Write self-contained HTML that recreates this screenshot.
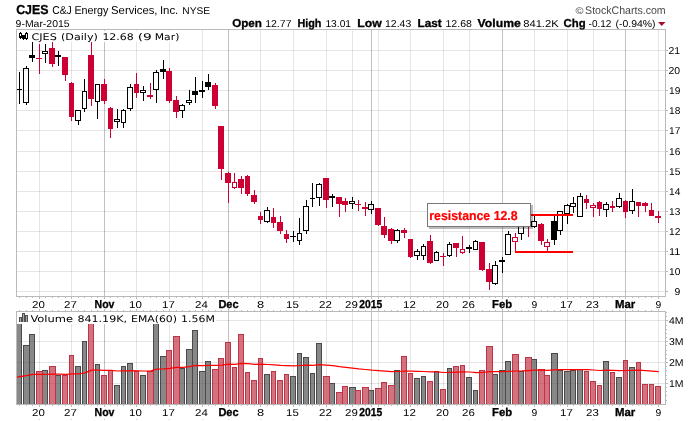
<!DOCTYPE html>
<html lang="en"><head><meta charset="utf-8"><title>CJES - C&amp;J Energy Services, Inc. - StockCharts</title>
<style>
html,body{margin:0;padding:0;background:#fff;}
body{width:700px;height:421px;overflow:hidden;font-family:"Liberation Sans",sans-serif;}
svg{display:block;}
</style></head><body>
<svg width="700" height="421" viewBox="0 0 700 421" text-rendering="geometricPrecision">
<rect width="700" height="421" fill="#fff"/>
<g shape-rendering="crispEdges">
<rect x="17" y="291" width="648" height="1" fill="rgba(0,0,0,0.10)"/>
<rect x="666" y="291" width="2" height="1" fill="#bababa"/>
<rect x="17" y="271" width="648" height="1" fill="rgba(0,0,0,0.10)"/>
<rect x="666" y="271" width="2" height="1" fill="#bababa"/>
<rect x="17" y="251" width="648" height="1" fill="rgba(0,0,0,0.10)"/>
<rect x="666" y="251" width="2" height="1" fill="#bababa"/>
<rect x="17" y="231" width="648" height="1" fill="rgba(0,0,0,0.10)"/>
<rect x="666" y="231" width="2" height="1" fill="#bababa"/>
<rect x="17" y="211" width="648" height="1" fill="rgba(0,0,0,0.10)"/>
<rect x="666" y="211" width="2" height="1" fill="#bababa"/>
<rect x="17" y="191" width="648" height="1" fill="rgba(0,0,0,0.10)"/>
<rect x="666" y="191" width="2" height="1" fill="#bababa"/>
<rect x="17" y="171" width="648" height="1" fill="rgba(0,0,0,0.10)"/>
<rect x="666" y="171" width="2" height="1" fill="#bababa"/>
<rect x="17" y="151" width="648" height="1" fill="rgba(0,0,0,0.10)"/>
<rect x="666" y="151" width="2" height="1" fill="#bababa"/>
<rect x="17" y="130" width="648" height="1" fill="rgba(0,0,0,0.10)"/>
<rect x="666" y="130" width="2" height="1" fill="#bababa"/>
<rect x="17" y="110" width="648" height="1" fill="rgba(0,0,0,0.10)"/>
<rect x="666" y="110" width="2" height="1" fill="#bababa"/>
<rect x="17" y="90" width="648" height="1" fill="rgba(0,0,0,0.10)"/>
<rect x="666" y="90" width="2" height="1" fill="#bababa"/>
<rect x="17" y="70" width="648" height="1" fill="rgba(0,0,0,0.10)"/>
<rect x="666" y="70" width="2" height="1" fill="#bababa"/>
<rect x="17" y="50" width="648" height="1" fill="rgba(0,0,0,0.10)"/>
<rect x="666" y="50" width="2" height="1" fill="#bababa"/>
<rect x="39" y="30" width="1" height="266" fill="rgba(0,0,0,0.10)"/>
<rect x="39" y="312" width="1" height="92" fill="rgba(0,0,0,0.10)"/>
<rect x="71" y="30" width="1" height="266" fill="rgba(0,0,0,0.10)"/>
<rect x="71" y="312" width="1" height="92" fill="rgba(0,0,0,0.10)"/>
<rect x="104" y="30" width="1" height="266" fill="rgba(0,0,0,0.24)"/>
<rect x="104" y="312" width="1" height="92" fill="rgba(0,0,0,0.24)"/>
<rect x="136" y="30" width="1" height="266" fill="rgba(0,0,0,0.10)"/>
<rect x="136" y="312" width="1" height="92" fill="rgba(0,0,0,0.10)"/>
<rect x="169" y="30" width="1" height="266" fill="rgba(0,0,0,0.10)"/>
<rect x="169" y="312" width="1" height="92" fill="rgba(0,0,0,0.10)"/>
<rect x="202" y="30" width="1" height="266" fill="rgba(0,0,0,0.10)"/>
<rect x="202" y="312" width="1" height="92" fill="rgba(0,0,0,0.10)"/>
<rect x="228" y="30" width="1" height="266" fill="rgba(0,0,0,0.24)"/>
<rect x="228" y="312" width="1" height="92" fill="rgba(0,0,0,0.24)"/>
<rect x="260" y="30" width="1" height="266" fill="rgba(0,0,0,0.10)"/>
<rect x="260" y="312" width="1" height="92" fill="rgba(0,0,0,0.10)"/>
<rect x="293" y="30" width="1" height="266" fill="rgba(0,0,0,0.10)"/>
<rect x="293" y="312" width="1" height="92" fill="rgba(0,0,0,0.10)"/>
<rect x="326" y="30" width="1" height="266" fill="rgba(0,0,0,0.10)"/>
<rect x="326" y="312" width="1" height="92" fill="rgba(0,0,0,0.10)"/>
<rect x="352" y="30" width="1" height="266" fill="rgba(0,0,0,0.10)"/>
<rect x="352" y="312" width="1" height="92" fill="rgba(0,0,0,0.10)"/>
<rect x="371" y="30" width="1" height="266" fill="rgba(0,0,0,0.24)"/>
<rect x="371" y="312" width="1" height="92" fill="rgba(0,0,0,0.24)"/>
<rect x="378" y="30" width="1" height="266" fill="rgba(0,0,0,0.10)"/>
<rect x="378" y="312" width="1" height="92" fill="rgba(0,0,0,0.10)"/>
<rect x="410" y="30" width="1" height="266" fill="rgba(0,0,0,0.10)"/>
<rect x="410" y="312" width="1" height="92" fill="rgba(0,0,0,0.10)"/>
<rect x="443" y="30" width="1" height="266" fill="rgba(0,0,0,0.10)"/>
<rect x="443" y="312" width="1" height="92" fill="rgba(0,0,0,0.10)"/>
<rect x="469" y="30" width="1" height="266" fill="rgba(0,0,0,0.10)"/>
<rect x="469" y="312" width="1" height="92" fill="rgba(0,0,0,0.10)"/>
<rect x="502" y="30" width="1" height="266" fill="rgba(0,0,0,0.24)"/>
<rect x="502" y="312" width="1" height="92" fill="rgba(0,0,0,0.24)"/>
<rect x="534" y="30" width="1" height="266" fill="rgba(0,0,0,0.10)"/>
<rect x="534" y="312" width="1" height="92" fill="rgba(0,0,0,0.10)"/>
<rect x="567" y="30" width="1" height="266" fill="rgba(0,0,0,0.10)"/>
<rect x="567" y="312" width="1" height="92" fill="rgba(0,0,0,0.10)"/>
<rect x="593" y="30" width="1" height="266" fill="rgba(0,0,0,0.10)"/>
<rect x="593" y="312" width="1" height="92" fill="rgba(0,0,0,0.10)"/>
<rect x="625" y="30" width="1" height="266" fill="rgba(0,0,0,0.24)"/>
<rect x="625" y="312" width="1" height="92" fill="rgba(0,0,0,0.24)"/>
<rect x="658" y="30" width="1" height="266" fill="rgba(0,0,0,0.10)"/>
<rect x="658" y="312" width="1" height="92" fill="rgba(0,0,0,0.10)"/>
<rect x="17" y="383" width="648" height="1" fill="rgba(0,0,0,0.10)"/>
<rect x="666" y="383" width="2" height="1" fill="#bababa"/>
<rect x="17" y="362" width="648" height="1" fill="rgba(0,0,0,0.10)"/>
<rect x="666" y="362" width="2" height="1" fill="#bababa"/>
<rect x="17" y="341" width="648" height="1" fill="rgba(0,0,0,0.10)"/>
<rect x="666" y="341" width="2" height="1" fill="#bababa"/>
<rect x="17" y="320" width="648" height="1" fill="rgba(0,0,0,0.10)"/>
<rect x="666" y="320" width="2" height="1" fill="#bababa"/>
<rect x="666" y="400" width="1" height="1" fill="#bababa"/>
<rect x="666" y="395" width="1" height="1" fill="#bababa"/>
<rect x="666" y="391" width="1" height="1" fill="#bababa"/>
<rect x="666" y="387" width="1" height="1" fill="#bababa"/>
<rect x="666" y="379" width="1" height="1" fill="#bababa"/>
<rect x="666" y="375" width="1" height="1" fill="#bababa"/>
<rect x="666" y="370" width="1" height="1" fill="#bababa"/>
<rect x="666" y="366" width="1" height="1" fill="#bababa"/>
<rect x="666" y="358" width="1" height="1" fill="#bababa"/>
<rect x="666" y="354" width="1" height="1" fill="#bababa"/>
<rect x="666" y="350" width="1" height="1" fill="#bababa"/>
<rect x="666" y="345" width="1" height="1" fill="#bababa"/>
<rect x="666" y="337" width="1" height="1" fill="#bababa"/>
<rect x="666" y="333" width="1" height="1" fill="#bababa"/>
<rect x="666" y="329" width="1" height="1" fill="#bababa"/>
<rect x="666" y="325" width="1" height="1" fill="#bababa"/>
<rect x="666" y="316" width="1" height="1" fill="#bababa"/>
<rect x="666" y="312" width="1" height="1" fill="#bababa"/>
<rect x="16" y="29" width="650" height="1" fill="#bababa"/>
<rect x="16" y="296" width="650" height="1" fill="#bababa"/>
<rect x="16" y="29" width="1" height="268" fill="#bababa"/>
<rect x="665" y="29" width="1" height="268" fill="#bababa"/>
<rect x="16" y="311" width="650" height="1" fill="#bababa"/>
<rect x="16" y="404" width="650" height="1" fill="#bababa"/>
<rect x="16" y="311" width="1" height="94" fill="#bababa"/>
<rect x="665" y="311" width="1" height="94" fill="#bababa"/>
<rect x="19" y="297" width="1" height="1" fill="#bababa"/>
<rect x="19" y="310" width="1" height="1" fill="#bababa"/>
<rect x="19" y="405" width="1" height="1" fill="#bababa"/>
<rect x="26" y="297" width="1" height="1" fill="#bababa"/>
<rect x="26" y="310" width="1" height="1" fill="#bababa"/>
<rect x="26" y="405" width="1" height="1" fill="#bababa"/>
<rect x="32" y="297" width="1" height="1" fill="#bababa"/>
<rect x="32" y="310" width="1" height="1" fill="#bababa"/>
<rect x="32" y="405" width="1" height="1" fill="#bababa"/>
<rect x="39" y="297" width="1" height="2" fill="#bababa"/>
<rect x="39" y="309" width="1" height="2" fill="#bababa"/>
<rect x="39" y="405" width="1" height="2" fill="#bababa"/>
<rect x="39" y="419" width="1" height="1" fill="#d0d0d0"/>
<rect x="45" y="297" width="1" height="1" fill="#bababa"/>
<rect x="45" y="310" width="1" height="1" fill="#bababa"/>
<rect x="45" y="405" width="1" height="1" fill="#bababa"/>
<rect x="52" y="297" width="1" height="1" fill="#bababa"/>
<rect x="52" y="310" width="1" height="1" fill="#bababa"/>
<rect x="52" y="405" width="1" height="1" fill="#bababa"/>
<rect x="58" y="297" width="1" height="1" fill="#bababa"/>
<rect x="58" y="310" width="1" height="1" fill="#bababa"/>
<rect x="58" y="405" width="1" height="1" fill="#bababa"/>
<rect x="65" y="297" width="1" height="1" fill="#bababa"/>
<rect x="65" y="310" width="1" height="1" fill="#bababa"/>
<rect x="65" y="405" width="1" height="1" fill="#bababa"/>
<rect x="71" y="297" width="1" height="2" fill="#bababa"/>
<rect x="71" y="309" width="1" height="2" fill="#bababa"/>
<rect x="71" y="405" width="1" height="2" fill="#bababa"/>
<rect x="71" y="419" width="1" height="1" fill="#d0d0d0"/>
<rect x="78" y="297" width="1" height="1" fill="#bababa"/>
<rect x="78" y="310" width="1" height="1" fill="#bababa"/>
<rect x="78" y="405" width="1" height="1" fill="#bababa"/>
<rect x="84" y="297" width="1" height="1" fill="#bababa"/>
<rect x="84" y="310" width="1" height="1" fill="#bababa"/>
<rect x="84" y="405" width="1" height="1" fill="#bababa"/>
<rect x="91" y="297" width="1" height="1" fill="#bababa"/>
<rect x="91" y="310" width="1" height="1" fill="#bababa"/>
<rect x="91" y="405" width="1" height="1" fill="#bababa"/>
<rect x="97" y="297" width="1" height="1" fill="#bababa"/>
<rect x="97" y="310" width="1" height="1" fill="#bababa"/>
<rect x="97" y="405" width="1" height="1" fill="#bababa"/>
<rect x="104" y="297" width="1" height="2" fill="#bababa"/>
<rect x="104" y="309" width="1" height="2" fill="#bababa"/>
<rect x="104" y="405" width="1" height="2" fill="#bababa"/>
<rect x="104" y="419" width="1" height="1" fill="#d0d0d0"/>
<rect x="110" y="297" width="1" height="1" fill="#bababa"/>
<rect x="110" y="310" width="1" height="1" fill="#bababa"/>
<rect x="110" y="405" width="1" height="1" fill="#bababa"/>
<rect x="117" y="297" width="1" height="1" fill="#bababa"/>
<rect x="117" y="310" width="1" height="1" fill="#bababa"/>
<rect x="117" y="405" width="1" height="1" fill="#bababa"/>
<rect x="123" y="297" width="1" height="1" fill="#bababa"/>
<rect x="123" y="310" width="1" height="1" fill="#bababa"/>
<rect x="123" y="405" width="1" height="1" fill="#bababa"/>
<rect x="130" y="297" width="1" height="1" fill="#bababa"/>
<rect x="130" y="310" width="1" height="1" fill="#bababa"/>
<rect x="130" y="405" width="1" height="1" fill="#bababa"/>
<rect x="136" y="297" width="1" height="2" fill="#bababa"/>
<rect x="136" y="309" width="1" height="2" fill="#bababa"/>
<rect x="136" y="405" width="1" height="2" fill="#bababa"/>
<rect x="136" y="419" width="1" height="1" fill="#d0d0d0"/>
<rect x="143" y="297" width="1" height="1" fill="#bababa"/>
<rect x="143" y="310" width="1" height="1" fill="#bababa"/>
<rect x="143" y="405" width="1" height="1" fill="#bababa"/>
<rect x="150" y="297" width="1" height="1" fill="#bababa"/>
<rect x="150" y="310" width="1" height="1" fill="#bababa"/>
<rect x="150" y="405" width="1" height="1" fill="#bababa"/>
<rect x="156" y="297" width="1" height="1" fill="#bababa"/>
<rect x="156" y="310" width="1" height="1" fill="#bababa"/>
<rect x="156" y="405" width="1" height="1" fill="#bababa"/>
<rect x="163" y="297" width="1" height="1" fill="#bababa"/>
<rect x="163" y="310" width="1" height="1" fill="#bababa"/>
<rect x="163" y="405" width="1" height="1" fill="#bababa"/>
<rect x="169" y="297" width="1" height="2" fill="#bababa"/>
<rect x="169" y="309" width="1" height="2" fill="#bababa"/>
<rect x="169" y="405" width="1" height="2" fill="#bababa"/>
<rect x="169" y="419" width="1" height="1" fill="#d0d0d0"/>
<rect x="176" y="297" width="1" height="1" fill="#bababa"/>
<rect x="176" y="310" width="1" height="1" fill="#bababa"/>
<rect x="176" y="405" width="1" height="1" fill="#bababa"/>
<rect x="182" y="297" width="1" height="1" fill="#bababa"/>
<rect x="182" y="310" width="1" height="1" fill="#bababa"/>
<rect x="182" y="405" width="1" height="1" fill="#bababa"/>
<rect x="189" y="297" width="1" height="1" fill="#bababa"/>
<rect x="189" y="310" width="1" height="1" fill="#bababa"/>
<rect x="189" y="405" width="1" height="1" fill="#bababa"/>
<rect x="195" y="297" width="1" height="1" fill="#bababa"/>
<rect x="195" y="310" width="1" height="1" fill="#bababa"/>
<rect x="195" y="405" width="1" height="1" fill="#bababa"/>
<rect x="202" y="297" width="1" height="2" fill="#bababa"/>
<rect x="202" y="309" width="1" height="2" fill="#bababa"/>
<rect x="202" y="405" width="1" height="2" fill="#bababa"/>
<rect x="202" y="419" width="1" height="1" fill="#d0d0d0"/>
<rect x="208" y="297" width="1" height="1" fill="#bababa"/>
<rect x="208" y="310" width="1" height="1" fill="#bababa"/>
<rect x="208" y="405" width="1" height="1" fill="#bababa"/>
<rect x="215" y="297" width="1" height="1" fill="#bababa"/>
<rect x="215" y="310" width="1" height="1" fill="#bababa"/>
<rect x="215" y="405" width="1" height="1" fill="#bababa"/>
<rect x="221" y="297" width="1" height="1" fill="#bababa"/>
<rect x="221" y="310" width="1" height="1" fill="#bababa"/>
<rect x="221" y="405" width="1" height="1" fill="#bababa"/>
<rect x="228" y="297" width="1" height="2" fill="#bababa"/>
<rect x="228" y="309" width="1" height="2" fill="#bababa"/>
<rect x="228" y="405" width="1" height="2" fill="#bababa"/>
<rect x="228" y="419" width="1" height="1" fill="#d0d0d0"/>
<rect x="234" y="297" width="1" height="1" fill="#bababa"/>
<rect x="234" y="310" width="1" height="1" fill="#bababa"/>
<rect x="234" y="405" width="1" height="1" fill="#bababa"/>
<rect x="241" y="297" width="1" height="1" fill="#bababa"/>
<rect x="241" y="310" width="1" height="1" fill="#bababa"/>
<rect x="241" y="405" width="1" height="1" fill="#bababa"/>
<rect x="247" y="297" width="1" height="1" fill="#bababa"/>
<rect x="247" y="310" width="1" height="1" fill="#bababa"/>
<rect x="247" y="405" width="1" height="1" fill="#bababa"/>
<rect x="254" y="297" width="1" height="1" fill="#bababa"/>
<rect x="254" y="310" width="1" height="1" fill="#bababa"/>
<rect x="254" y="405" width="1" height="1" fill="#bababa"/>
<rect x="260" y="297" width="1" height="2" fill="#bababa"/>
<rect x="260" y="309" width="1" height="2" fill="#bababa"/>
<rect x="260" y="405" width="1" height="2" fill="#bababa"/>
<rect x="260" y="419" width="1" height="1" fill="#d0d0d0"/>
<rect x="267" y="297" width="1" height="1" fill="#bababa"/>
<rect x="267" y="310" width="1" height="1" fill="#bababa"/>
<rect x="267" y="405" width="1" height="1" fill="#bababa"/>
<rect x="273" y="297" width="1" height="1" fill="#bababa"/>
<rect x="273" y="310" width="1" height="1" fill="#bababa"/>
<rect x="273" y="405" width="1" height="1" fill="#bababa"/>
<rect x="280" y="297" width="1" height="1" fill="#bababa"/>
<rect x="280" y="310" width="1" height="1" fill="#bababa"/>
<rect x="280" y="405" width="1" height="1" fill="#bababa"/>
<rect x="286" y="297" width="1" height="1" fill="#bababa"/>
<rect x="286" y="310" width="1" height="1" fill="#bababa"/>
<rect x="286" y="405" width="1" height="1" fill="#bababa"/>
<rect x="293" y="297" width="1" height="2" fill="#bababa"/>
<rect x="293" y="309" width="1" height="2" fill="#bababa"/>
<rect x="293" y="405" width="1" height="2" fill="#bababa"/>
<rect x="293" y="419" width="1" height="1" fill="#d0d0d0"/>
<rect x="299" y="297" width="1" height="1" fill="#bababa"/>
<rect x="299" y="310" width="1" height="1" fill="#bababa"/>
<rect x="299" y="405" width="1" height="1" fill="#bababa"/>
<rect x="306" y="297" width="1" height="1" fill="#bababa"/>
<rect x="306" y="310" width="1" height="1" fill="#bababa"/>
<rect x="306" y="405" width="1" height="1" fill="#bababa"/>
<rect x="312" y="297" width="1" height="1" fill="#bababa"/>
<rect x="312" y="310" width="1" height="1" fill="#bababa"/>
<rect x="312" y="405" width="1" height="1" fill="#bababa"/>
<rect x="319" y="297" width="1" height="1" fill="#bababa"/>
<rect x="319" y="310" width="1" height="1" fill="#bababa"/>
<rect x="319" y="405" width="1" height="1" fill="#bababa"/>
<rect x="326" y="297" width="1" height="2" fill="#bababa"/>
<rect x="326" y="309" width="1" height="2" fill="#bababa"/>
<rect x="326" y="405" width="1" height="2" fill="#bababa"/>
<rect x="326" y="419" width="1" height="1" fill="#d0d0d0"/>
<rect x="332" y="297" width="1" height="1" fill="#bababa"/>
<rect x="332" y="310" width="1" height="1" fill="#bababa"/>
<rect x="332" y="405" width="1" height="1" fill="#bababa"/>
<rect x="339" y="297" width="1" height="1" fill="#bababa"/>
<rect x="339" y="310" width="1" height="1" fill="#bababa"/>
<rect x="339" y="405" width="1" height="1" fill="#bababa"/>
<rect x="345" y="297" width="1" height="1" fill="#bababa"/>
<rect x="345" y="310" width="1" height="1" fill="#bababa"/>
<rect x="345" y="405" width="1" height="1" fill="#bababa"/>
<rect x="352" y="297" width="1" height="2" fill="#bababa"/>
<rect x="352" y="309" width="1" height="2" fill="#bababa"/>
<rect x="352" y="405" width="1" height="2" fill="#bababa"/>
<rect x="352" y="419" width="1" height="1" fill="#d0d0d0"/>
<rect x="358" y="297" width="1" height="1" fill="#bababa"/>
<rect x="358" y="310" width="1" height="1" fill="#bababa"/>
<rect x="358" y="405" width="1" height="1" fill="#bababa"/>
<rect x="365" y="297" width="1" height="1" fill="#bababa"/>
<rect x="365" y="310" width="1" height="1" fill="#bababa"/>
<rect x="365" y="405" width="1" height="1" fill="#bababa"/>
<rect x="371" y="297" width="1" height="2" fill="#bababa"/>
<rect x="371" y="309" width="1" height="2" fill="#bababa"/>
<rect x="371" y="405" width="1" height="2" fill="#bababa"/>
<rect x="371" y="419" width="1" height="1" fill="#d0d0d0"/>
<rect x="378" y="297" width="1" height="2" fill="#bababa"/>
<rect x="378" y="309" width="1" height="2" fill="#bababa"/>
<rect x="378" y="405" width="1" height="2" fill="#bababa"/>
<rect x="378" y="419" width="1" height="1" fill="#d0d0d0"/>
<rect x="384" y="297" width="1" height="1" fill="#bababa"/>
<rect x="384" y="310" width="1" height="1" fill="#bababa"/>
<rect x="384" y="405" width="1" height="1" fill="#bababa"/>
<rect x="391" y="297" width="1" height="1" fill="#bababa"/>
<rect x="391" y="310" width="1" height="1" fill="#bababa"/>
<rect x="391" y="405" width="1" height="1" fill="#bababa"/>
<rect x="397" y="297" width="1" height="1" fill="#bababa"/>
<rect x="397" y="310" width="1" height="1" fill="#bababa"/>
<rect x="397" y="405" width="1" height="1" fill="#bababa"/>
<rect x="404" y="297" width="1" height="1" fill="#bababa"/>
<rect x="404" y="310" width="1" height="1" fill="#bababa"/>
<rect x="404" y="405" width="1" height="1" fill="#bababa"/>
<rect x="410" y="297" width="1" height="2" fill="#bababa"/>
<rect x="410" y="309" width="1" height="2" fill="#bababa"/>
<rect x="410" y="405" width="1" height="2" fill="#bababa"/>
<rect x="410" y="419" width="1" height="1" fill="#d0d0d0"/>
<rect x="417" y="297" width="1" height="1" fill="#bababa"/>
<rect x="417" y="310" width="1" height="1" fill="#bababa"/>
<rect x="417" y="405" width="1" height="1" fill="#bababa"/>
<rect x="423" y="297" width="1" height="1" fill="#bababa"/>
<rect x="423" y="310" width="1" height="1" fill="#bababa"/>
<rect x="423" y="405" width="1" height="1" fill="#bababa"/>
<rect x="430" y="297" width="1" height="1" fill="#bababa"/>
<rect x="430" y="310" width="1" height="1" fill="#bababa"/>
<rect x="430" y="405" width="1" height="1" fill="#bababa"/>
<rect x="436" y="297" width="1" height="1" fill="#bababa"/>
<rect x="436" y="310" width="1" height="1" fill="#bababa"/>
<rect x="436" y="405" width="1" height="1" fill="#bababa"/>
<rect x="443" y="297" width="1" height="2" fill="#bababa"/>
<rect x="443" y="309" width="1" height="2" fill="#bababa"/>
<rect x="443" y="405" width="1" height="2" fill="#bababa"/>
<rect x="443" y="419" width="1" height="1" fill="#d0d0d0"/>
<rect x="449" y="297" width="1" height="1" fill="#bababa"/>
<rect x="449" y="310" width="1" height="1" fill="#bababa"/>
<rect x="449" y="405" width="1" height="1" fill="#bababa"/>
<rect x="456" y="297" width="1" height="1" fill="#bababa"/>
<rect x="456" y="310" width="1" height="1" fill="#bababa"/>
<rect x="456" y="405" width="1" height="1" fill="#bababa"/>
<rect x="462" y="297" width="1" height="1" fill="#bababa"/>
<rect x="462" y="310" width="1" height="1" fill="#bababa"/>
<rect x="462" y="405" width="1" height="1" fill="#bababa"/>
<rect x="469" y="297" width="1" height="2" fill="#bababa"/>
<rect x="469" y="309" width="1" height="2" fill="#bababa"/>
<rect x="469" y="405" width="1" height="2" fill="#bababa"/>
<rect x="469" y="419" width="1" height="1" fill="#d0d0d0"/>
<rect x="475" y="297" width="1" height="1" fill="#bababa"/>
<rect x="475" y="310" width="1" height="1" fill="#bababa"/>
<rect x="475" y="405" width="1" height="1" fill="#bababa"/>
<rect x="482" y="297" width="1" height="1" fill="#bababa"/>
<rect x="482" y="310" width="1" height="1" fill="#bababa"/>
<rect x="482" y="405" width="1" height="1" fill="#bababa"/>
<rect x="489" y="297" width="1" height="1" fill="#bababa"/>
<rect x="489" y="310" width="1" height="1" fill="#bababa"/>
<rect x="489" y="405" width="1" height="1" fill="#bababa"/>
<rect x="495" y="297" width="1" height="1" fill="#bababa"/>
<rect x="495" y="310" width="1" height="1" fill="#bababa"/>
<rect x="495" y="405" width="1" height="1" fill="#bababa"/>
<rect x="502" y="297" width="1" height="2" fill="#bababa"/>
<rect x="502" y="309" width="1" height="2" fill="#bababa"/>
<rect x="502" y="405" width="1" height="2" fill="#bababa"/>
<rect x="502" y="419" width="1" height="1" fill="#d0d0d0"/>
<rect x="508" y="297" width="1" height="1" fill="#bababa"/>
<rect x="508" y="310" width="1" height="1" fill="#bababa"/>
<rect x="508" y="405" width="1" height="1" fill="#bababa"/>
<rect x="515" y="297" width="1" height="1" fill="#bababa"/>
<rect x="515" y="310" width="1" height="1" fill="#bababa"/>
<rect x="515" y="405" width="1" height="1" fill="#bababa"/>
<rect x="521" y="297" width="1" height="1" fill="#bababa"/>
<rect x="521" y="310" width="1" height="1" fill="#bababa"/>
<rect x="521" y="405" width="1" height="1" fill="#bababa"/>
<rect x="528" y="297" width="1" height="1" fill="#bababa"/>
<rect x="528" y="310" width="1" height="1" fill="#bababa"/>
<rect x="528" y="405" width="1" height="1" fill="#bababa"/>
<rect x="534" y="297" width="1" height="2" fill="#bababa"/>
<rect x="534" y="309" width="1" height="2" fill="#bababa"/>
<rect x="534" y="405" width="1" height="2" fill="#bababa"/>
<rect x="534" y="419" width="1" height="1" fill="#d0d0d0"/>
<rect x="541" y="297" width="1" height="1" fill="#bababa"/>
<rect x="541" y="310" width="1" height="1" fill="#bababa"/>
<rect x="541" y="405" width="1" height="1" fill="#bababa"/>
<rect x="547" y="297" width="1" height="1" fill="#bababa"/>
<rect x="547" y="310" width="1" height="1" fill="#bababa"/>
<rect x="547" y="405" width="1" height="1" fill="#bababa"/>
<rect x="554" y="297" width="1" height="1" fill="#bababa"/>
<rect x="554" y="310" width="1" height="1" fill="#bababa"/>
<rect x="554" y="405" width="1" height="1" fill="#bababa"/>
<rect x="560" y="297" width="1" height="1" fill="#bababa"/>
<rect x="560" y="310" width="1" height="1" fill="#bababa"/>
<rect x="560" y="405" width="1" height="1" fill="#bababa"/>
<rect x="567" y="297" width="1" height="2" fill="#bababa"/>
<rect x="567" y="309" width="1" height="2" fill="#bababa"/>
<rect x="567" y="405" width="1" height="2" fill="#bababa"/>
<rect x="567" y="419" width="1" height="1" fill="#d0d0d0"/>
<rect x="573" y="297" width="1" height="1" fill="#bababa"/>
<rect x="573" y="310" width="1" height="1" fill="#bababa"/>
<rect x="573" y="405" width="1" height="1" fill="#bababa"/>
<rect x="580" y="297" width="1" height="1" fill="#bababa"/>
<rect x="580" y="310" width="1" height="1" fill="#bababa"/>
<rect x="580" y="405" width="1" height="1" fill="#bababa"/>
<rect x="586" y="297" width="1" height="1" fill="#bababa"/>
<rect x="586" y="310" width="1" height="1" fill="#bababa"/>
<rect x="586" y="405" width="1" height="1" fill="#bababa"/>
<rect x="593" y="297" width="1" height="2" fill="#bababa"/>
<rect x="593" y="309" width="1" height="2" fill="#bababa"/>
<rect x="593" y="405" width="1" height="2" fill="#bababa"/>
<rect x="593" y="419" width="1" height="1" fill="#d0d0d0"/>
<rect x="599" y="297" width="1" height="1" fill="#bababa"/>
<rect x="599" y="310" width="1" height="1" fill="#bababa"/>
<rect x="599" y="405" width="1" height="1" fill="#bababa"/>
<rect x="606" y="297" width="1" height="1" fill="#bababa"/>
<rect x="606" y="310" width="1" height="1" fill="#bababa"/>
<rect x="606" y="405" width="1" height="1" fill="#bababa"/>
<rect x="612" y="297" width="1" height="1" fill="#bababa"/>
<rect x="612" y="310" width="1" height="1" fill="#bababa"/>
<rect x="612" y="405" width="1" height="1" fill="#bababa"/>
<rect x="619" y="297" width="1" height="1" fill="#bababa"/>
<rect x="619" y="310" width="1" height="1" fill="#bababa"/>
<rect x="619" y="405" width="1" height="1" fill="#bababa"/>
<rect x="625" y="297" width="1" height="2" fill="#bababa"/>
<rect x="625" y="309" width="1" height="2" fill="#bababa"/>
<rect x="625" y="405" width="1" height="2" fill="#bababa"/>
<rect x="625" y="419" width="1" height="1" fill="#d0d0d0"/>
<rect x="632" y="297" width="1" height="1" fill="#bababa"/>
<rect x="632" y="310" width="1" height="1" fill="#bababa"/>
<rect x="632" y="405" width="1" height="1" fill="#bababa"/>
<rect x="638" y="297" width="1" height="1" fill="#bababa"/>
<rect x="638" y="310" width="1" height="1" fill="#bababa"/>
<rect x="638" y="405" width="1" height="1" fill="#bababa"/>
<rect x="645" y="297" width="1" height="1" fill="#bababa"/>
<rect x="645" y="310" width="1" height="1" fill="#bababa"/>
<rect x="645" y="405" width="1" height="1" fill="#bababa"/>
<rect x="651" y="297" width="1" height="1" fill="#bababa"/>
<rect x="651" y="310" width="1" height="1" fill="#bababa"/>
<rect x="651" y="405" width="1" height="1" fill="#bababa"/>
<rect x="658" y="297" width="1" height="2" fill="#bababa"/>
<rect x="658" y="309" width="1" height="2" fill="#bababa"/>
<rect x="658" y="405" width="1" height="2" fill="#bababa"/>
<rect x="658" y="419" width="1" height="1" fill="#d0d0d0"/>
<rect x="17" y="312" width="5" height="1" fill="#4a4a4a"/>
<rect x="17" y="313" width="1" height="91" fill="rgba(74,74,74,0.655)"/>
<rect x="21" y="313" width="1" height="91" fill="#4a4a4a"/>
<rect x="18" y="313" width="3" height="91" fill="rgba(74,74,74,0.655)"/>
<rect x="23" y="345" width="7" height="1" fill="#4a4a4a"/>
<rect x="23" y="346" width="1" height="58" fill="#4a4a4a"/>
<rect x="29" y="346" width="1" height="58" fill="#4a4a4a"/>
<rect x="24" y="346" width="5" height="58" fill="rgba(74,74,74,0.655)"/>
<rect x="29" y="334" width="6" height="1" fill="#4a4a4a"/>
<rect x="29" y="335" width="1" height="69" fill="#4a4a4a"/>
<rect x="34" y="335" width="1" height="69" fill="#4a4a4a"/>
<rect x="30" y="335" width="4" height="69" fill="rgba(74,74,74,0.655)"/>
<rect x="42" y="370" width="6" height="1" fill="#4a4a4a"/>
<rect x="42" y="371" width="1" height="33" fill="#4a4a4a"/>
<rect x="47" y="371" width="1" height="33" fill="#4a4a4a"/>
<rect x="43" y="371" width="4" height="33" fill="rgba(74,74,74,0.655)"/>
<rect x="55" y="375" width="6" height="1" fill="#4a4a4a"/>
<rect x="55" y="376" width="1" height="28" fill="#4a4a4a"/>
<rect x="60" y="376" width="1" height="28" fill="#4a4a4a"/>
<rect x="56" y="376" width="4" height="28" fill="rgba(74,74,74,0.655)"/>
<rect x="75" y="366" width="6" height="1" fill="#4a4a4a"/>
<rect x="75" y="367" width="1" height="37" fill="#4a4a4a"/>
<rect x="80" y="367" width="1" height="37" fill="#4a4a4a"/>
<rect x="76" y="367" width="4" height="37" fill="rgba(74,74,74,0.655)"/>
<rect x="82" y="341" width="5" height="1" fill="#4a4a4a"/>
<rect x="82" y="342" width="1" height="62" fill="#4a4a4a"/>
<rect x="86" y="342" width="1" height="62" fill="#4a4a4a"/>
<rect x="83" y="342" width="3" height="62" fill="rgba(74,74,74,0.655)"/>
<rect x="95" y="364" width="5" height="1" fill="#4a4a4a"/>
<rect x="95" y="365" width="1" height="39" fill="#4a4a4a"/>
<rect x="99" y="365" width="1" height="39" fill="#4a4a4a"/>
<rect x="96" y="365" width="3" height="39" fill="rgba(74,74,74,0.655)"/>
<rect x="114" y="385" width="6" height="1" fill="#4a4a4a"/>
<rect x="114" y="386" width="1" height="18" fill="#4a4a4a"/>
<rect x="119" y="386" width="1" height="18" fill="#4a4a4a"/>
<rect x="115" y="386" width="4" height="18" fill="rgba(74,74,74,0.655)"/>
<rect x="121" y="366" width="5" height="1" fill="#4a4a4a"/>
<rect x="121" y="367" width="1" height="37" fill="#4a4a4a"/>
<rect x="125" y="367" width="1" height="37" fill="#4a4a4a"/>
<rect x="122" y="367" width="3" height="37" fill="rgba(74,74,74,0.655)"/>
<rect x="127" y="363" width="6" height="1" fill="#4a4a4a"/>
<rect x="127" y="364" width="1" height="40" fill="#4a4a4a"/>
<rect x="132" y="364" width="1" height="40" fill="#4a4a4a"/>
<rect x="128" y="364" width="4" height="40" fill="rgba(74,74,74,0.655)"/>
<rect x="140" y="375" width="6" height="1" fill="#4a4a4a"/>
<rect x="140" y="376" width="1" height="28" fill="#4a4a4a"/>
<rect x="145" y="376" width="1" height="28" fill="#4a4a4a"/>
<rect x="141" y="376" width="4" height="28" fill="rgba(74,74,74,0.655)"/>
<rect x="153" y="312" width="6" height="1" fill="#4a4a4a"/>
<rect x="153" y="313" width="1" height="91" fill="#4a4a4a"/>
<rect x="158" y="313" width="1" height="91" fill="#4a4a4a"/>
<rect x="154" y="313" width="4" height="91" fill="rgba(74,74,74,0.655)"/>
<rect x="160" y="356" width="7" height="1" fill="#4a4a4a"/>
<rect x="160" y="357" width="1" height="47" fill="#4a4a4a"/>
<rect x="166" y="357" width="1" height="47" fill="#4a4a4a"/>
<rect x="161" y="357" width="5" height="47" fill="rgba(74,74,74,0.655)"/>
<rect x="179" y="368" width="6" height="1" fill="#4a4a4a"/>
<rect x="179" y="369" width="1" height="35" fill="#4a4a4a"/>
<rect x="184" y="369" width="1" height="35" fill="#4a4a4a"/>
<rect x="180" y="369" width="4" height="35" fill="rgba(74,74,74,0.655)"/>
<rect x="186" y="349" width="7" height="1" fill="#4a4a4a"/>
<rect x="186" y="350" width="1" height="54" fill="#4a4a4a"/>
<rect x="192" y="350" width="1" height="54" fill="#4a4a4a"/>
<rect x="187" y="350" width="5" height="54" fill="rgba(74,74,74,0.655)"/>
<rect x="192" y="330" width="6" height="1" fill="#4a4a4a"/>
<rect x="192" y="331" width="1" height="73" fill="#4a4a4a"/>
<rect x="197" y="331" width="1" height="73" fill="#4a4a4a"/>
<rect x="193" y="331" width="4" height="73" fill="rgba(74,74,74,0.655)"/>
<rect x="199" y="371" width="7" height="1" fill="#4a4a4a"/>
<rect x="199" y="372" width="1" height="32" fill="#4a4a4a"/>
<rect x="205" y="372" width="1" height="32" fill="#4a4a4a"/>
<rect x="200" y="372" width="5" height="32" fill="rgba(74,74,74,0.655)"/>
<rect x="205" y="361" width="6" height="1" fill="#4a4a4a"/>
<rect x="205" y="362" width="1" height="42" fill="#4a4a4a"/>
<rect x="210" y="362" width="1" height="42" fill="#4a4a4a"/>
<rect x="206" y="362" width="4" height="42" fill="rgba(74,74,74,0.655)"/>
<rect x="264" y="374" width="6" height="1" fill="#4a4a4a"/>
<rect x="264" y="375" width="1" height="29" fill="#4a4a4a"/>
<rect x="269" y="375" width="1" height="29" fill="#4a4a4a"/>
<rect x="265" y="375" width="4" height="29" fill="rgba(74,74,74,0.655)"/>
<rect x="290" y="376" width="6" height="1" fill="#4a4a4a"/>
<rect x="290" y="377" width="1" height="27" fill="#4a4a4a"/>
<rect x="295" y="377" width="1" height="27" fill="#4a4a4a"/>
<rect x="291" y="377" width="4" height="27" fill="rgba(74,74,74,0.655)"/>
<rect x="297" y="353" width="5" height="1" fill="#4a4a4a"/>
<rect x="297" y="354" width="1" height="50" fill="#4a4a4a"/>
<rect x="301" y="354" width="1" height="50" fill="#4a4a4a"/>
<rect x="298" y="354" width="3" height="50" fill="rgba(74,74,74,0.655)"/>
<rect x="303" y="357" width="6" height="1" fill="#4a4a4a"/>
<rect x="303" y="358" width="1" height="46" fill="#4a4a4a"/>
<rect x="308" y="358" width="1" height="46" fill="#4a4a4a"/>
<rect x="304" y="358" width="4" height="46" fill="rgba(74,74,74,0.655)"/>
<rect x="310" y="373" width="5" height="1" fill="#4a4a4a"/>
<rect x="310" y="374" width="1" height="30" fill="#4a4a4a"/>
<rect x="314" y="374" width="1" height="30" fill="#4a4a4a"/>
<rect x="311" y="374" width="3" height="30" fill="rgba(74,74,74,0.655)"/>
<rect x="316" y="343" width="6" height="1" fill="#4a4a4a"/>
<rect x="316" y="344" width="1" height="60" fill="#4a4a4a"/>
<rect x="321" y="344" width="1" height="60" fill="#4a4a4a"/>
<rect x="317" y="344" width="4" height="60" fill="rgba(74,74,74,0.655)"/>
<rect x="329" y="383" width="6" height="1" fill="#4a4a4a"/>
<rect x="329" y="384" width="1" height="20" fill="#4a4a4a"/>
<rect x="334" y="384" width="1" height="20" fill="#4a4a4a"/>
<rect x="330" y="384" width="4" height="20" fill="rgba(74,74,74,0.655)"/>
<rect x="349" y="387" width="7" height="1" fill="#4a4a4a"/>
<rect x="349" y="388" width="1" height="16" fill="#4a4a4a"/>
<rect x="355" y="388" width="1" height="16" fill="#4a4a4a"/>
<rect x="350" y="388" width="5" height="16" fill="rgba(74,74,74,0.655)"/>
<rect x="368" y="390" width="6" height="1" fill="#4a4a4a"/>
<rect x="368" y="391" width="1" height="13" fill="#4a4a4a"/>
<rect x="373" y="391" width="1" height="13" fill="#4a4a4a"/>
<rect x="369" y="391" width="4" height="13" fill="rgba(74,74,74,0.655)"/>
<rect x="394" y="370" width="6" height="1" fill="#4a4a4a"/>
<rect x="394" y="371" width="1" height="33" fill="#4a4a4a"/>
<rect x="399" y="371" width="1" height="33" fill="#4a4a4a"/>
<rect x="395" y="371" width="4" height="33" fill="rgba(74,74,74,0.655)"/>
<rect x="414" y="378" width="6" height="1" fill="#4a4a4a"/>
<rect x="414" y="379" width="1" height="25" fill="#4a4a4a"/>
<rect x="419" y="379" width="1" height="25" fill="#4a4a4a"/>
<rect x="415" y="379" width="4" height="25" fill="rgba(74,74,74,0.655)"/>
<rect x="421" y="376" width="5" height="1" fill="#4a4a4a"/>
<rect x="421" y="377" width="1" height="27" fill="#4a4a4a"/>
<rect x="425" y="377" width="1" height="27" fill="#4a4a4a"/>
<rect x="422" y="377" width="3" height="27" fill="rgba(74,74,74,0.655)"/>
<rect x="434" y="371" width="5" height="1" fill="#4a4a4a"/>
<rect x="434" y="372" width="1" height="32" fill="#4a4a4a"/>
<rect x="438" y="372" width="1" height="32" fill="#4a4a4a"/>
<rect x="435" y="372" width="3" height="32" fill="rgba(74,74,74,0.655)"/>
<rect x="447" y="368" width="5" height="1" fill="#4a4a4a"/>
<rect x="447" y="369" width="1" height="35" fill="#4a4a4a"/>
<rect x="451" y="369" width="1" height="35" fill="#4a4a4a"/>
<rect x="448" y="369" width="3" height="35" fill="rgba(74,74,74,0.655)"/>
<rect x="466" y="377" width="6" height="1" fill="#4a4a4a"/>
<rect x="466" y="378" width="1" height="26" fill="#4a4a4a"/>
<rect x="471" y="378" width="1" height="26" fill="#4a4a4a"/>
<rect x="467" y="378" width="4" height="26" fill="rgba(74,74,74,0.655)"/>
<rect x="473" y="390" width="5" height="1" fill="#4a4a4a"/>
<rect x="473" y="391" width="1" height="13" fill="#4a4a4a"/>
<rect x="477" y="391" width="1" height="13" fill="#4a4a4a"/>
<rect x="474" y="391" width="3" height="13" fill="rgba(74,74,74,0.655)"/>
<rect x="492" y="374" width="6" height="1" fill="#4a4a4a"/>
<rect x="492" y="375" width="1" height="29" fill="#4a4a4a"/>
<rect x="497" y="375" width="1" height="29" fill="#4a4a4a"/>
<rect x="493" y="375" width="4" height="29" fill="rgba(74,74,74,0.655)"/>
<rect x="499" y="370" width="7" height="1" fill="#4a4a4a"/>
<rect x="499" y="371" width="1" height="33" fill="#4a4a4a"/>
<rect x="505" y="371" width="1" height="33" fill="#4a4a4a"/>
<rect x="500" y="371" width="5" height="33" fill="rgba(74,74,74,0.655)"/>
<rect x="505" y="361" width="6" height="1" fill="#4a4a4a"/>
<rect x="505" y="362" width="1" height="42" fill="#4a4a4a"/>
<rect x="510" y="362" width="1" height="42" fill="#4a4a4a"/>
<rect x="506" y="362" width="4" height="42" fill="rgba(74,74,74,0.655)"/>
<rect x="518" y="371" width="6" height="1" fill="#4a4a4a"/>
<rect x="518" y="372" width="1" height="32" fill="#4a4a4a"/>
<rect x="523" y="372" width="1" height="32" fill="#4a4a4a"/>
<rect x="519" y="372" width="4" height="32" fill="rgba(74,74,74,0.655)"/>
<rect x="531" y="359" width="6" height="1" fill="#4a4a4a"/>
<rect x="531" y="360" width="1" height="44" fill="#4a4a4a"/>
<rect x="536" y="360" width="1" height="44" fill="#4a4a4a"/>
<rect x="532" y="360" width="4" height="44" fill="rgba(74,74,74,0.655)"/>
<rect x="551" y="353" width="7" height="1" fill="#4a4a4a"/>
<rect x="551" y="354" width="1" height="50" fill="#4a4a4a"/>
<rect x="557" y="354" width="1" height="50" fill="#4a4a4a"/>
<rect x="552" y="354" width="5" height="50" fill="rgba(74,74,74,0.655)"/>
<rect x="557" y="370" width="6" height="1" fill="#4a4a4a"/>
<rect x="557" y="371" width="1" height="33" fill="#4a4a4a"/>
<rect x="562" y="371" width="1" height="33" fill="#4a4a4a"/>
<rect x="558" y="371" width="4" height="33" fill="rgba(74,74,74,0.655)"/>
<rect x="564" y="371" width="7" height="1" fill="#4a4a4a"/>
<rect x="564" y="372" width="1" height="32" fill="#4a4a4a"/>
<rect x="570" y="372" width="1" height="32" fill="#4a4a4a"/>
<rect x="565" y="372" width="5" height="32" fill="rgba(74,74,74,0.655)"/>
<rect x="570" y="370" width="6" height="1" fill="#4a4a4a"/>
<rect x="570" y="371" width="1" height="33" fill="#4a4a4a"/>
<rect x="575" y="371" width="1" height="33" fill="#4a4a4a"/>
<rect x="571" y="371" width="4" height="33" fill="rgba(74,74,74,0.655)"/>
<rect x="577" y="369" width="6" height="1" fill="#4a4a4a"/>
<rect x="577" y="370" width="1" height="34" fill="#4a4a4a"/>
<rect x="582" y="370" width="1" height="34" fill="#4a4a4a"/>
<rect x="578" y="370" width="4" height="34" fill="rgba(74,74,74,0.655)"/>
<rect x="603" y="361" width="6" height="1" fill="#4a4a4a"/>
<rect x="603" y="362" width="1" height="42" fill="#4a4a4a"/>
<rect x="608" y="362" width="1" height="42" fill="#4a4a4a"/>
<rect x="604" y="362" width="4" height="42" fill="rgba(74,74,74,0.655)"/>
<rect x="616" y="377" width="6" height="1" fill="#4a4a4a"/>
<rect x="616" y="378" width="1" height="26" fill="#4a4a4a"/>
<rect x="621" y="378" width="1" height="26" fill="#4a4a4a"/>
<rect x="617" y="378" width="4" height="26" fill="rgba(74,74,74,0.655)"/>
<rect x="629" y="367" width="6" height="1" fill="#4a4a4a"/>
<rect x="629" y="368" width="1" height="36" fill="#4a4a4a"/>
<rect x="634" y="368" width="1" height="36" fill="#4a4a4a"/>
<rect x="630" y="368" width="4" height="36" fill="rgba(74,74,74,0.655)"/>
<rect x="36" y="371" width="7" height="1" fill="#be3447"/>
<rect x="36" y="372" width="1" height="32" fill="#be3447"/>
<rect x="42" y="372" width="1" height="32" fill="#be3447"/>
<rect x="37" y="372" width="5" height="32" fill="rgba(190,52,71,0.69)"/>
<rect x="49" y="366" width="7" height="1" fill="#be3447"/>
<rect x="49" y="367" width="1" height="37" fill="#be3447"/>
<rect x="55" y="367" width="1" height="37" fill="#be3447"/>
<rect x="50" y="367" width="5" height="37" fill="rgba(190,52,71,0.69)"/>
<rect x="62" y="375" width="6" height="1" fill="#be3447"/>
<rect x="62" y="376" width="1" height="28" fill="#be3447"/>
<rect x="67" y="376" width="1" height="28" fill="#be3447"/>
<rect x="63" y="376" width="4" height="28" fill="rgba(190,52,71,0.69)"/>
<rect x="69" y="355" width="5" height="1" fill="#be3447"/>
<rect x="69" y="356" width="1" height="48" fill="#be3447"/>
<rect x="73" y="356" width="1" height="48" fill="#be3447"/>
<rect x="70" y="356" width="3" height="48" fill="rgba(190,52,71,0.69)"/>
<rect x="88" y="312" width="6" height="1" fill="#be3447"/>
<rect x="88" y="313" width="1" height="91" fill="#be3447"/>
<rect x="93" y="313" width="1" height="91" fill="#be3447"/>
<rect x="89" y="313" width="4" height="91" fill="rgba(190,52,71,0.69)"/>
<rect x="101" y="375" width="6" height="1" fill="#be3447"/>
<rect x="101" y="376" width="1" height="28" fill="#be3447"/>
<rect x="106" y="376" width="1" height="28" fill="#be3447"/>
<rect x="102" y="376" width="4" height="28" fill="rgba(190,52,71,0.69)"/>
<rect x="108" y="370" width="5" height="1" fill="#be3447"/>
<rect x="108" y="371" width="1" height="33" fill="#be3447"/>
<rect x="112" y="371" width="1" height="33" fill="#be3447"/>
<rect x="109" y="371" width="3" height="33" fill="rgba(190,52,71,0.69)"/>
<rect x="134" y="371" width="5" height="1" fill="#be3447"/>
<rect x="134" y="372" width="1" height="32" fill="#be3447"/>
<rect x="138" y="372" width="1" height="32" fill="#be3447"/>
<rect x="135" y="372" width="3" height="32" fill="rgba(190,52,71,0.69)"/>
<rect x="147" y="371" width="7" height="1" fill="#be3447"/>
<rect x="147" y="372" width="1" height="32" fill="#be3447"/>
<rect x="153" y="372" width="1" height="32" fill="#be3447"/>
<rect x="148" y="372" width="5" height="32" fill="rgba(190,52,71,0.69)"/>
<rect x="166" y="350" width="6" height="1" fill="#be3447"/>
<rect x="166" y="351" width="1" height="53" fill="#be3447"/>
<rect x="171" y="351" width="1" height="53" fill="#be3447"/>
<rect x="167" y="351" width="4" height="53" fill="rgba(190,52,71,0.69)"/>
<rect x="173" y="336" width="7" height="1" fill="#be3447"/>
<rect x="173" y="337" width="1" height="67" fill="#be3447"/>
<rect x="179" y="337" width="1" height="67" fill="#be3447"/>
<rect x="174" y="337" width="5" height="67" fill="rgba(190,52,71,0.69)"/>
<rect x="212" y="369" width="7" height="1" fill="#be3447"/>
<rect x="212" y="370" width="1" height="34" fill="#be3447"/>
<rect x="218" y="370" width="1" height="34" fill="#be3447"/>
<rect x="213" y="370" width="5" height="34" fill="rgba(190,52,71,0.69)"/>
<rect x="218" y="358" width="6" height="1" fill="#be3447"/>
<rect x="218" y="359" width="1" height="45" fill="#be3447"/>
<rect x="223" y="359" width="1" height="45" fill="#be3447"/>
<rect x="219" y="359" width="4" height="45" fill="rgba(190,52,71,0.69)"/>
<rect x="225" y="342" width="6" height="1" fill="#be3447"/>
<rect x="225" y="343" width="1" height="61" fill="#be3447"/>
<rect x="230" y="343" width="1" height="61" fill="#be3447"/>
<rect x="226" y="343" width="4" height="61" fill="rgba(190,52,71,0.69)"/>
<rect x="232" y="367" width="5" height="1" fill="#be3447"/>
<rect x="232" y="368" width="1" height="36" fill="#be3447"/>
<rect x="236" y="368" width="1" height="36" fill="#be3447"/>
<rect x="233" y="368" width="3" height="36" fill="rgba(190,52,71,0.69)"/>
<rect x="238" y="334" width="6" height="1" fill="#be3447"/>
<rect x="238" y="335" width="1" height="69" fill="#be3447"/>
<rect x="243" y="335" width="1" height="69" fill="#be3447"/>
<rect x="239" y="335" width="4" height="69" fill="rgba(190,52,71,0.69)"/>
<rect x="245" y="372" width="5" height="1" fill="#be3447"/>
<rect x="245" y="373" width="1" height="31" fill="#be3447"/>
<rect x="249" y="373" width="1" height="31" fill="#be3447"/>
<rect x="246" y="373" width="3" height="31" fill="rgba(190,52,71,0.69)"/>
<rect x="251" y="380" width="6" height="1" fill="#be3447"/>
<rect x="251" y="381" width="1" height="23" fill="#be3447"/>
<rect x="256" y="381" width="1" height="23" fill="#be3447"/>
<rect x="252" y="381" width="4" height="23" fill="rgba(190,52,71,0.69)"/>
<rect x="258" y="358" width="5" height="1" fill="#be3447"/>
<rect x="258" y="359" width="1" height="45" fill="#be3447"/>
<rect x="262" y="359" width="1" height="45" fill="#be3447"/>
<rect x="259" y="359" width="3" height="45" fill="rgba(190,52,71,0.69)"/>
<rect x="271" y="371" width="5" height="1" fill="#be3447"/>
<rect x="271" y="372" width="1" height="32" fill="#be3447"/>
<rect x="275" y="372" width="1" height="32" fill="#be3447"/>
<rect x="272" y="372" width="3" height="32" fill="rgba(190,52,71,0.69)"/>
<rect x="277" y="380" width="6" height="1" fill="#be3447"/>
<rect x="277" y="381" width="1" height="23" fill="#be3447"/>
<rect x="282" y="381" width="1" height="23" fill="#be3447"/>
<rect x="278" y="381" width="4" height="23" fill="rgba(190,52,71,0.69)"/>
<rect x="284" y="374" width="5" height="1" fill="#be3447"/>
<rect x="284" y="375" width="1" height="29" fill="#be3447"/>
<rect x="288" y="375" width="1" height="29" fill="#be3447"/>
<rect x="285" y="375" width="3" height="29" fill="rgba(190,52,71,0.69)"/>
<rect x="323" y="376" width="7" height="1" fill="#be3447"/>
<rect x="323" y="377" width="1" height="27" fill="#be3447"/>
<rect x="329" y="377" width="1" height="27" fill="#be3447"/>
<rect x="324" y="377" width="5" height="27" fill="rgba(190,52,71,0.69)"/>
<rect x="336" y="392" width="7" height="1" fill="#be3447"/>
<rect x="336" y="393" width="1" height="11" fill="#be3447"/>
<rect x="342" y="393" width="1" height="11" fill="#be3447"/>
<rect x="337" y="393" width="5" height="11" fill="rgba(190,52,71,0.69)"/>
<rect x="342" y="386" width="6" height="1" fill="#be3447"/>
<rect x="342" y="387" width="1" height="17" fill="#be3447"/>
<rect x="347" y="387" width="1" height="17" fill="#be3447"/>
<rect x="343" y="387" width="4" height="17" fill="rgba(190,52,71,0.69)"/>
<rect x="355" y="390" width="6" height="1" fill="#be3447"/>
<rect x="355" y="391" width="1" height="13" fill="#be3447"/>
<rect x="360" y="391" width="1" height="13" fill="#be3447"/>
<rect x="356" y="391" width="4" height="13" fill="rgba(190,52,71,0.69)"/>
<rect x="362" y="387" width="7" height="1" fill="#be3447"/>
<rect x="362" y="388" width="1" height="16" fill="#be3447"/>
<rect x="368" y="388" width="1" height="16" fill="#be3447"/>
<rect x="363" y="388" width="5" height="16" fill="rgba(190,52,71,0.69)"/>
<rect x="375" y="388" width="7" height="1" fill="#be3447"/>
<rect x="375" y="389" width="1" height="15" fill="#be3447"/>
<rect x="381" y="389" width="1" height="15" fill="#be3447"/>
<rect x="376" y="389" width="5" height="15" fill="rgba(190,52,71,0.69)"/>
<rect x="381" y="382" width="6" height="1" fill="#be3447"/>
<rect x="381" y="383" width="1" height="21" fill="#be3447"/>
<rect x="386" y="383" width="1" height="21" fill="#be3447"/>
<rect x="382" y="383" width="4" height="21" fill="rgba(190,52,71,0.69)"/>
<rect x="388" y="385" width="7" height="1" fill="#be3447"/>
<rect x="388" y="386" width="1" height="18" fill="#be3447"/>
<rect x="394" y="386" width="1" height="18" fill="#be3447"/>
<rect x="389" y="386" width="5" height="18" fill="rgba(190,52,71,0.69)"/>
<rect x="401" y="356" width="6" height="1" fill="#be3447"/>
<rect x="401" y="357" width="1" height="47" fill="#be3447"/>
<rect x="406" y="357" width="1" height="47" fill="#be3447"/>
<rect x="402" y="357" width="4" height="47" fill="rgba(190,52,71,0.69)"/>
<rect x="408" y="373" width="5" height="1" fill="#be3447"/>
<rect x="408" y="374" width="1" height="30" fill="#be3447"/>
<rect x="412" y="374" width="1" height="30" fill="#be3447"/>
<rect x="409" y="374" width="3" height="30" fill="rgba(190,52,71,0.69)"/>
<rect x="427" y="381" width="6" height="1" fill="#be3447"/>
<rect x="427" y="382" width="1" height="22" fill="#be3447"/>
<rect x="432" y="382" width="1" height="22" fill="#be3447"/>
<rect x="428" y="382" width="4" height="22" fill="rgba(190,52,71,0.69)"/>
<rect x="440" y="389" width="6" height="1" fill="#be3447"/>
<rect x="440" y="390" width="1" height="14" fill="#be3447"/>
<rect x="445" y="390" width="1" height="14" fill="#be3447"/>
<rect x="441" y="390" width="4" height="14" fill="rgba(190,52,71,0.69)"/>
<rect x="453" y="366" width="6" height="1" fill="#be3447"/>
<rect x="453" y="367" width="1" height="37" fill="#be3447"/>
<rect x="458" y="367" width="1" height="37" fill="#be3447"/>
<rect x="454" y="367" width="4" height="37" fill="rgba(190,52,71,0.69)"/>
<rect x="460" y="365" width="5" height="1" fill="#be3447"/>
<rect x="460" y="366" width="1" height="38" fill="#be3447"/>
<rect x="464" y="366" width="1" height="38" fill="#be3447"/>
<rect x="461" y="366" width="3" height="38" fill="rgba(190,52,71,0.69)"/>
<rect x="479" y="370" width="6" height="1" fill="#be3447"/>
<rect x="479" y="371" width="1" height="33" fill="#be3447"/>
<rect x="484" y="371" width="1" height="33" fill="#be3447"/>
<rect x="480" y="371" width="4" height="33" fill="rgba(190,52,71,0.69)"/>
<rect x="486" y="346" width="7" height="1" fill="#be3447"/>
<rect x="486" y="347" width="1" height="57" fill="#be3447"/>
<rect x="492" y="347" width="1" height="57" fill="#be3447"/>
<rect x="487" y="347" width="5" height="57" fill="rgba(190,52,71,0.69)"/>
<rect x="512" y="354" width="7" height="1" fill="#be3447"/>
<rect x="512" y="355" width="1" height="49" fill="#be3447"/>
<rect x="518" y="355" width="1" height="49" fill="#be3447"/>
<rect x="513" y="355" width="5" height="49" fill="rgba(190,52,71,0.69)"/>
<rect x="525" y="357" width="7" height="1" fill="#be3447"/>
<rect x="525" y="358" width="1" height="46" fill="#be3447"/>
<rect x="531" y="358" width="1" height="46" fill="#be3447"/>
<rect x="526" y="358" width="5" height="46" fill="rgba(190,52,71,0.69)"/>
<rect x="538" y="369" width="7" height="1" fill="#be3447"/>
<rect x="538" y="370" width="1" height="34" fill="#be3447"/>
<rect x="544" y="370" width="1" height="34" fill="#be3447"/>
<rect x="539" y="370" width="5" height="34" fill="rgba(190,52,71,0.69)"/>
<rect x="544" y="375" width="6" height="1" fill="#be3447"/>
<rect x="544" y="376" width="1" height="28" fill="#be3447"/>
<rect x="549" y="376" width="1" height="28" fill="#be3447"/>
<rect x="545" y="376" width="4" height="28" fill="rgba(190,52,71,0.69)"/>
<rect x="584" y="371" width="5" height="1" fill="#be3447"/>
<rect x="584" y="372" width="1" height="32" fill="#be3447"/>
<rect x="588" y="372" width="1" height="32" fill="#be3447"/>
<rect x="585" y="372" width="3" height="32" fill="rgba(190,52,71,0.69)"/>
<rect x="590" y="381" width="6" height="1" fill="#be3447"/>
<rect x="590" y="382" width="1" height="22" fill="#be3447"/>
<rect x="595" y="382" width="1" height="22" fill="#be3447"/>
<rect x="591" y="382" width="4" height="22" fill="rgba(190,52,71,0.69)"/>
<rect x="597" y="385" width="5" height="1" fill="#be3447"/>
<rect x="597" y="386" width="1" height="18" fill="#be3447"/>
<rect x="601" y="386" width="1" height="18" fill="#be3447"/>
<rect x="598" y="386" width="3" height="18" fill="rgba(190,52,71,0.69)"/>
<rect x="610" y="372" width="5" height="1" fill="#be3447"/>
<rect x="610" y="373" width="1" height="31" fill="#be3447"/>
<rect x="614" y="373" width="1" height="31" fill="#be3447"/>
<rect x="611" y="373" width="3" height="31" fill="rgba(190,52,71,0.69)"/>
<rect x="623" y="360" width="5" height="1" fill="#be3447"/>
<rect x="623" y="361" width="1" height="43" fill="#be3447"/>
<rect x="627" y="361" width="1" height="43" fill="#be3447"/>
<rect x="624" y="361" width="3" height="43" fill="rgba(190,52,71,0.69)"/>
<rect x="636" y="362" width="5" height="1" fill="#be3447"/>
<rect x="636" y="363" width="1" height="41" fill="#be3447"/>
<rect x="640" y="363" width="1" height="41" fill="#be3447"/>
<rect x="637" y="363" width="3" height="41" fill="rgba(190,52,71,0.69)"/>
<rect x="642" y="384" width="6" height="1" fill="#be3447"/>
<rect x="642" y="385" width="1" height="19" fill="#be3447"/>
<rect x="647" y="385" width="1" height="19" fill="#be3447"/>
<rect x="643" y="385" width="4" height="19" fill="rgba(190,52,71,0.69)"/>
<rect x="649" y="384" width="5" height="1" fill="#be3447"/>
<rect x="649" y="385" width="1" height="19" fill="#be3447"/>
<rect x="653" y="385" width="1" height="19" fill="#be3447"/>
<rect x="650" y="385" width="3" height="19" fill="rgba(190,52,71,0.69)"/>
<rect x="655" y="386" width="6" height="1" fill="#be3447"/>
<rect x="655" y="387" width="1" height="17" fill="#be3447"/>
<rect x="660" y="387" width="1" height="17" fill="#be3447"/>
<rect x="656" y="387" width="4" height="17" fill="rgba(190,52,71,0.69)"/>
</g>
<polyline points="17,377.2 19.9,376.7 26.5,375.7 33.0,374.4 39.5,374.4 46.0,374.3 52.5,374.1 59.1,374.2 65.6,374.4 72.1,373.9 78.6,373.8 85.1,372.8 91.6,370.2 98.2,370.1 104.7,370.3 111.2,370.4 117.7,371.0 124.2,370.9 130.8,370.7 137.3,370.8 143.8,371.0 150.3,371.1 156.8,369.1 163.4,368.8 169.9,368.3 176.4,367.3 182.9,367.3 189.4,366.7 196.0,365.4 202.5,365.6 209.0,365.3 215.5,365.3 222.0,365.1 228.5,364.2 235.1,364.4 241.6,363.4 248.1,363.7 254.6,364.3 261.1,364.1 267.7,364.5 274.2,364.8 280.7,365.3 287.2,365.6 293.7,365.9 300.3,365.5 306.8,365.2 313.3,365.4 319.8,364.7 326.3,365.1 332.9,365.7 339.4,366.6 345.9,367.3 352.4,368.1 358.9,368.9 365.4,369.5 372.0,370.2 378.5,370.7 385.0,371.1 391.5,371.6 398.0,371.5 404.6,371.0 411.1,371.1 417.6,371.3 424.1,371.5 430.6,371.9 437.2,371.9 443.7,372.5 450.2,372.3 456.7,372.1 463.2,371.9 469.8,372.0 476.3,372.6 482.8,372.5 489.3,371.6 495.8,371.7 502.3,371.7 508.9,371.4 515.4,371.0 521.9,370.9 528.4,370.6 534.9,370.2 541.5,370.2 548.0,370.3 554.5,369.8 561.0,369.7 567.5,369.6 574.1,369.6 580.6,369.6 587.1,369.6 593.6,370.0 600.1,370.5 606.7,370.2 613.2,370.4 619.7,370.7 626.2,370.5 632.7,370.4 639.2,370.2 645.8,370.6 652.3,371.1 658.8,371.6" fill="none" stroke="#ff0000" stroke-width="1.25" stroke-linejoin="round"/>
<g shape-rendering="crispEdges">
<rect x="17" y="31" width="165" height="11" fill="#fff"/>
<rect x="17" y="312" width="199" height="12" fill="#fff"/>
<rect x="19" y="72" width="1" height="32" fill="#000000"/>
<rect x="17" y="89" width="5" height="1" fill="#000000"/>
<rect x="26" y="66" width="1" height="2" fill="#000000"/>
<rect x="26" y="103" width="1" height="2" fill="#000000"/>
<rect x="23" y="68" width="6" height="1" fill="#000000"/>
<rect x="23" y="102" width="6" height="1" fill="#000000"/>
<rect x="23" y="69" width="1" height="33" fill="#000000"/>
<rect x="28" y="69" width="1" height="33" fill="#000000"/>
<rect x="32" y="42" width="1" height="20" fill="#000000"/>
<rect x="29" y="55" width="6" height="3" fill="#000000"/>
<rect x="39" y="44" width="1" height="30" fill="#cc0033"/>
<rect x="36" y="58" width="6" height="1" fill="#cc0033"/>
<rect x="45" y="44" width="1" height="7" fill="#000000"/>
<rect x="45" y="54" width="1" height="9" fill="#000000"/>
<rect x="42" y="51" width="6" height="1" fill="#000000"/>
<rect x="42" y="53" width="6" height="1" fill="#000000"/>
<rect x="42" y="52" width="1" height="1" fill="#000000"/>
<rect x="47" y="52" width="1" height="1" fill="#000000"/>
<rect x="52" y="42" width="1" height="25" fill="#cc0033"/>
<rect x="49" y="48" width="6" height="16" fill="#cc0033"/>
<rect x="58" y="51" width="1" height="15" fill="#000000"/>
<rect x="55" y="55" width="6" height="2" fill="#000000"/>
<rect x="65" y="57" width="1" height="24" fill="#cc0033"/>
<rect x="62" y="57" width="6" height="18" fill="#cc0033"/>
<rect x="71" y="82" width="1" height="39" fill="#cc0033"/>
<rect x="69" y="83" width="5" height="34" fill="#cc0033"/>
<rect x="78" y="121" width="1" height="4" fill="#000000"/>
<rect x="75" y="110" width="6" height="1" fill="#000000"/>
<rect x="75" y="120" width="6" height="1" fill="#000000"/>
<rect x="75" y="111" width="1" height="9" fill="#000000"/>
<rect x="80" y="111" width="1" height="9" fill="#000000"/>
<rect x="84" y="79" width="1" height="12" fill="#000000"/>
<rect x="84" y="109" width="1" height="3" fill="#000000"/>
<rect x="82" y="91" width="5" height="1" fill="#000000"/>
<rect x="82" y="108" width="5" height="1" fill="#000000"/>
<rect x="82" y="92" width="1" height="16" fill="#000000"/>
<rect x="86" y="92" width="1" height="16" fill="#000000"/>
<rect x="91" y="42" width="1" height="64" fill="#cc0033"/>
<rect x="88" y="55" width="6" height="44" fill="#cc0033"/>
<rect x="97" y="102" width="1" height="17" fill="#000000"/>
<rect x="95" y="84" width="5" height="1" fill="#000000"/>
<rect x="95" y="101" width="5" height="1" fill="#000000"/>
<rect x="95" y="85" width="1" height="16" fill="#000000"/>
<rect x="99" y="85" width="1" height="16" fill="#000000"/>
<rect x="104" y="79" width="1" height="25" fill="#cc0033"/>
<rect x="101" y="84" width="6" height="17" fill="#cc0033"/>
<rect x="110" y="107" width="1" height="31" fill="#cc0033"/>
<rect x="108" y="108" width="5" height="21" fill="#cc0033"/>
<rect x="117" y="109" width="1" height="10" fill="#000000"/>
<rect x="117" y="122" width="1" height="6" fill="#000000"/>
<rect x="114" y="119" width="6" height="1" fill="#000000"/>
<rect x="114" y="121" width="6" height="1" fill="#000000"/>
<rect x="114" y="120" width="1" height="1" fill="#000000"/>
<rect x="119" y="120" width="1" height="1" fill="#000000"/>
<rect x="123" y="109" width="1" height="1" fill="#000000"/>
<rect x="123" y="123" width="1" height="5" fill="#000000"/>
<rect x="121" y="110" width="5" height="1" fill="#000000"/>
<rect x="121" y="122" width="5" height="1" fill="#000000"/>
<rect x="121" y="111" width="1" height="11" fill="#000000"/>
<rect x="125" y="111" width="1" height="11" fill="#000000"/>
<rect x="130" y="84" width="1" height="3" fill="#000000"/>
<rect x="130" y="109" width="1" height="2" fill="#000000"/>
<rect x="127" y="87" width="6" height="1" fill="#000000"/>
<rect x="127" y="108" width="6" height="1" fill="#000000"/>
<rect x="127" y="88" width="1" height="20" fill="#000000"/>
<rect x="132" y="88" width="1" height="20" fill="#000000"/>
<rect x="136" y="73" width="1" height="25" fill="#cc0033"/>
<rect x="134" y="84" width="5" height="9" fill="#cc0033"/>
<rect x="143" y="86" width="1" height="4" fill="#000000"/>
<rect x="143" y="93" width="1" height="8" fill="#000000"/>
<rect x="140" y="90" width="6" height="1" fill="#000000"/>
<rect x="140" y="92" width="6" height="1" fill="#000000"/>
<rect x="140" y="91" width="1" height="1" fill="#000000"/>
<rect x="145" y="91" width="1" height="1" fill="#000000"/>
<rect x="150" y="83" width="1" height="16" fill="#cc0033"/>
<rect x="147" y="95" width="6" height="2" fill="#cc0033"/>
<rect x="156" y="70" width="1" height="2" fill="#000000"/>
<rect x="156" y="90" width="1" height="13" fill="#000000"/>
<rect x="153" y="72" width="6" height="1" fill="#000000"/>
<rect x="153" y="89" width="6" height="1" fill="#000000"/>
<rect x="153" y="73" width="1" height="16" fill="#000000"/>
<rect x="158" y="73" width="1" height="16" fill="#000000"/>
<rect x="163" y="60" width="1" height="19" fill="#000000"/>
<rect x="160" y="69" width="6" height="3" fill="#000000"/>
<rect x="169" y="68" width="1" height="35" fill="#cc0033"/>
<rect x="166" y="71" width="6" height="30" fill="#cc0033"/>
<rect x="176" y="96" width="1" height="22" fill="#cc0033"/>
<rect x="173" y="100" width="6" height="12" fill="#cc0033"/>
<rect x="182" y="104" width="1" height="1" fill="#000000"/>
<rect x="182" y="111" width="1" height="7" fill="#000000"/>
<rect x="179" y="105" width="6" height="1" fill="#000000"/>
<rect x="179" y="110" width="6" height="1" fill="#000000"/>
<rect x="179" y="106" width="1" height="4" fill="#000000"/>
<rect x="184" y="106" width="1" height="4" fill="#000000"/>
<rect x="189" y="90" width="1" height="10" fill="#000000"/>
<rect x="189" y="103" width="1" height="2" fill="#000000"/>
<rect x="186" y="100" width="6" height="1" fill="#000000"/>
<rect x="186" y="102" width="6" height="1" fill="#000000"/>
<rect x="186" y="101" width="1" height="1" fill="#000000"/>
<rect x="191" y="101" width="1" height="1" fill="#000000"/>
<rect x="195" y="77" width="1" height="26" fill="#000000"/>
<rect x="192" y="91" width="6" height="4" fill="#000000"/>
<rect x="202" y="81" width="1" height="17" fill="#000000"/>
<rect x="199" y="90" width="6" height="2" fill="#000000"/>
<rect x="208" y="74" width="1" height="16" fill="#000000"/>
<rect x="205" y="82" width="6" height="5" fill="#000000"/>
<rect x="215" y="83" width="1" height="26" fill="#cc0033"/>
<rect x="212" y="85" width="6" height="21" fill="#cc0033"/>
<rect x="221" y="126" width="1" height="54" fill="#cc0033"/>
<rect x="218" y="126" width="6" height="43" fill="#cc0033"/>
<rect x="228" y="172" width="1" height="31" fill="#cc0033"/>
<rect x="225" y="173" width="6" height="10" fill="#cc0033"/>
<rect x="234" y="173" width="1" height="9" fill="#cc0033"/>
<rect x="234" y="188" width="1" height="1" fill="#cc0033"/>
<rect x="232" y="182" width="5" height="1" fill="#cc0033"/>
<rect x="232" y="187" width="5" height="1" fill="#cc0033"/>
<rect x="232" y="183" width="1" height="4" fill="#cc0033"/>
<rect x="236" y="183" width="1" height="4" fill="#cc0033"/>
<rect x="241" y="176" width="1" height="18" fill="#cc0033"/>
<rect x="238" y="179" width="6" height="9" fill="#cc0033"/>
<rect x="247" y="175" width="1" height="21" fill="#cc0033"/>
<rect x="245" y="176" width="5" height="18" fill="#cc0033"/>
<rect x="254" y="190" width="1" height="14" fill="#cc0033"/>
<rect x="251" y="195" width="6" height="7" fill="#cc0033"/>
<rect x="260" y="212" width="1" height="12" fill="#cc0033"/>
<rect x="258" y="216" width="5" height="4" fill="#cc0033"/>
<rect x="267" y="207" width="1" height="3" fill="#000000"/>
<rect x="267" y="222" width="1" height="1" fill="#000000"/>
<rect x="264" y="210" width="6" height="1" fill="#000000"/>
<rect x="264" y="221" width="6" height="1" fill="#000000"/>
<rect x="264" y="211" width="1" height="10" fill="#000000"/>
<rect x="269" y="211" width="1" height="10" fill="#000000"/>
<rect x="273" y="208" width="1" height="20" fill="#cc0033"/>
<rect x="271" y="217" width="5" height="6" fill="#cc0033"/>
<rect x="280" y="216" width="1" height="18" fill="#cc0033"/>
<rect x="277" y="222" width="6" height="9" fill="#cc0033"/>
<rect x="286" y="230" width="1" height="13" fill="#cc0033"/>
<rect x="284" y="234" width="5" height="5" fill="#cc0033"/>
<rect x="293" y="231" width="1" height="11" fill="#000000"/>
<rect x="290" y="236" width="6" height="1" fill="#000000"/>
<rect x="299" y="218" width="1" height="15" fill="#000000"/>
<rect x="299" y="241" width="1" height="4" fill="#000000"/>
<rect x="297" y="233" width="5" height="1" fill="#000000"/>
<rect x="297" y="240" width="5" height="1" fill="#000000"/>
<rect x="297" y="234" width="1" height="6" fill="#000000"/>
<rect x="301" y="234" width="1" height="6" fill="#000000"/>
<rect x="306" y="200" width="1" height="6" fill="#000000"/>
<rect x="306" y="231" width="1" height="3" fill="#000000"/>
<rect x="303" y="206" width="6" height="1" fill="#000000"/>
<rect x="303" y="230" width="6" height="1" fill="#000000"/>
<rect x="303" y="207" width="1" height="23" fill="#000000"/>
<rect x="308" y="207" width="1" height="23" fill="#000000"/>
<rect x="312" y="183" width="1" height="24" fill="#000000"/>
<rect x="310" y="198" width="5" height="1" fill="#000000"/>
<rect x="319" y="183" width="1" height="1" fill="#000000"/>
<rect x="319" y="198" width="1" height="8" fill="#000000"/>
<rect x="316" y="184" width="6" height="1" fill="#000000"/>
<rect x="316" y="197" width="6" height="1" fill="#000000"/>
<rect x="316" y="185" width="1" height="12" fill="#000000"/>
<rect x="321" y="185" width="1" height="12" fill="#000000"/>
<rect x="326" y="178" width="1" height="30" fill="#cc0033"/>
<rect x="323" y="178" width="6" height="22" fill="#cc0033"/>
<rect x="332" y="194" width="1" height="13" fill="#000000"/>
<rect x="329" y="196" width="6" height="2" fill="#000000"/>
<rect x="339" y="197" width="1" height="20" fill="#cc0033"/>
<rect x="336" y="197" width="6" height="7" fill="#cc0033"/>
<rect x="345" y="198" width="1" height="14" fill="#cc0033"/>
<rect x="342" y="201" width="6" height="4" fill="#cc0033"/>
<rect x="352" y="197" width="1" height="4" fill="#000000"/>
<rect x="352" y="204" width="1" height="5" fill="#000000"/>
<rect x="349" y="201" width="6" height="1" fill="#000000"/>
<rect x="349" y="203" width="6" height="1" fill="#000000"/>
<rect x="349" y="202" width="1" height="1" fill="#000000"/>
<rect x="354" y="202" width="1" height="1" fill="#000000"/>
<rect x="358" y="200" width="1" height="11" fill="#cc0033"/>
<rect x="355" y="204" width="6" height="1" fill="#cc0033"/>
<rect x="365" y="202" width="1" height="14" fill="#cc0033"/>
<rect x="362" y="207" width="6" height="2" fill="#cc0033"/>
<rect x="371" y="201" width="1" height="3" fill="#000000"/>
<rect x="371" y="210" width="1" height="4" fill="#000000"/>
<rect x="368" y="204" width="6" height="1" fill="#000000"/>
<rect x="368" y="209" width="6" height="1" fill="#000000"/>
<rect x="368" y="205" width="1" height="4" fill="#000000"/>
<rect x="373" y="205" width="1" height="4" fill="#000000"/>
<rect x="378" y="208" width="1" height="18" fill="#cc0033"/>
<rect x="375" y="208" width="6" height="17" fill="#cc0033"/>
<rect x="384" y="217" width="1" height="21" fill="#cc0033"/>
<rect x="381" y="226" width="6" height="9" fill="#cc0033"/>
<rect x="391" y="228" width="1" height="16" fill="#cc0033"/>
<rect x="388" y="229" width="6" height="12" fill="#cc0033"/>
<rect x="397" y="229" width="1" height="1" fill="#000000"/>
<rect x="397" y="241" width="1" height="2" fill="#000000"/>
<rect x="394" y="230" width="6" height="1" fill="#000000"/>
<rect x="394" y="240" width="6" height="1" fill="#000000"/>
<rect x="394" y="231" width="1" height="9" fill="#000000"/>
<rect x="399" y="231" width="1" height="9" fill="#000000"/>
<rect x="404" y="228" width="1" height="10" fill="#cc0033"/>
<rect x="401" y="230" width="6" height="3" fill="#cc0033"/>
<rect x="410" y="239" width="1" height="19" fill="#cc0033"/>
<rect x="408" y="239" width="5" height="18" fill="#cc0033"/>
<rect x="417" y="249" width="1" height="2" fill="#000000"/>
<rect x="417" y="256" width="1" height="4" fill="#000000"/>
<rect x="414" y="251" width="6" height="1" fill="#000000"/>
<rect x="414" y="255" width="6" height="1" fill="#000000"/>
<rect x="414" y="252" width="1" height="3" fill="#000000"/>
<rect x="419" y="252" width="1" height="3" fill="#000000"/>
<rect x="423" y="244" width="1" height="2" fill="#000000"/>
<rect x="423" y="256" width="1" height="4" fill="#000000"/>
<rect x="421" y="246" width="5" height="1" fill="#000000"/>
<rect x="421" y="255" width="5" height="1" fill="#000000"/>
<rect x="421" y="247" width="1" height="8" fill="#000000"/>
<rect x="425" y="247" width="1" height="8" fill="#000000"/>
<rect x="430" y="235" width="1" height="29" fill="#cc0033"/>
<rect x="427" y="241" width="6" height="22" fill="#cc0033"/>
<rect x="436" y="251" width="1" height="1" fill="#000000"/>
<rect x="434" y="252" width="5" height="1" fill="#000000"/>
<rect x="434" y="260" width="5" height="1" fill="#000000"/>
<rect x="434" y="253" width="1" height="7" fill="#000000"/>
<rect x="438" y="253" width="1" height="7" fill="#000000"/>
<rect x="443" y="253" width="1" height="13" fill="#cc0033"/>
<rect x="440" y="256" width="6" height="1" fill="#cc0033"/>
<rect x="449" y="242" width="1" height="2" fill="#000000"/>
<rect x="449" y="256" width="1" height="1" fill="#000000"/>
<rect x="447" y="244" width="5" height="1" fill="#000000"/>
<rect x="447" y="255" width="5" height="1" fill="#000000"/>
<rect x="447" y="245" width="1" height="10" fill="#000000"/>
<rect x="451" y="245" width="1" height="10" fill="#000000"/>
<rect x="456" y="243" width="1" height="14" fill="#cc0033"/>
<rect x="453" y="243" width="6" height="5" fill="#cc0033"/>
<rect x="462" y="236" width="1" height="13" fill="#cc0033"/>
<rect x="462" y="253" width="1" height="1" fill="#cc0033"/>
<rect x="460" y="249" width="5" height="1" fill="#cc0033"/>
<rect x="460" y="252" width="5" height="1" fill="#cc0033"/>
<rect x="460" y="250" width="1" height="2" fill="#cc0033"/>
<rect x="464" y="250" width="1" height="2" fill="#cc0033"/>
<rect x="469" y="245" width="1" height="8" fill="#000000"/>
<rect x="466" y="247" width="6" height="2" fill="#000000"/>
<rect x="475" y="240" width="1" height="1" fill="#000000"/>
<rect x="473" y="241" width="5" height="1" fill="#000000"/>
<rect x="473" y="249" width="5" height="1" fill="#000000"/>
<rect x="473" y="242" width="1" height="7" fill="#000000"/>
<rect x="477" y="242" width="1" height="7" fill="#000000"/>
<rect x="482" y="242" width="1" height="29" fill="#cc0033"/>
<rect x="479" y="242" width="6" height="28" fill="#cc0033"/>
<rect x="489" y="263" width="1" height="27" fill="#cc0033"/>
<rect x="486" y="269" width="6" height="13" fill="#cc0033"/>
<rect x="495" y="261" width="1" height="4" fill="#000000"/>
<rect x="495" y="284" width="1" height="1" fill="#000000"/>
<rect x="492" y="265" width="6" height="1" fill="#000000"/>
<rect x="492" y="283" width="6" height="1" fill="#000000"/>
<rect x="492" y="266" width="1" height="17" fill="#000000"/>
<rect x="497" y="266" width="1" height="17" fill="#000000"/>
<rect x="502" y="257" width="1" height="16" fill="#000000"/>
<rect x="499" y="260" width="6" height="2" fill="#000000"/>
<rect x="508" y="231" width="1" height="3" fill="#000000"/>
<rect x="505" y="234" width="6" height="1" fill="#000000"/>
<rect x="505" y="254" width="6" height="1" fill="#000000"/>
<rect x="505" y="235" width="1" height="19" fill="#000000"/>
<rect x="510" y="235" width="1" height="19" fill="#000000"/>
<rect x="515" y="233" width="1" height="4" fill="#cc0033"/>
<rect x="515" y="242" width="1" height="10" fill="#cc0033"/>
<rect x="512" y="237" width="6" height="1" fill="#cc0033"/>
<rect x="512" y="241" width="6" height="1" fill="#cc0033"/>
<rect x="512" y="238" width="1" height="3" fill="#cc0033"/>
<rect x="517" y="238" width="1" height="3" fill="#cc0033"/>
<rect x="521" y="215" width="1" height="5" fill="#000000"/>
<rect x="521" y="234" width="1" height="6" fill="#000000"/>
<rect x="518" y="220" width="6" height="1" fill="#000000"/>
<rect x="518" y="233" width="6" height="1" fill="#000000"/>
<rect x="518" y="221" width="1" height="12" fill="#000000"/>
<rect x="523" y="221" width="1" height="12" fill="#000000"/>
<rect x="528" y="215" width="1" height="22" fill="#cc0033"/>
<rect x="525" y="226" width="6" height="1" fill="#cc0033"/>
<rect x="534" y="216" width="1" height="5" fill="#000000"/>
<rect x="534" y="227" width="1" height="1" fill="#000000"/>
<rect x="531" y="221" width="6" height="1" fill="#000000"/>
<rect x="531" y="226" width="6" height="1" fill="#000000"/>
<rect x="531" y="222" width="1" height="4" fill="#000000"/>
<rect x="536" y="222" width="1" height="4" fill="#000000"/>
<rect x="541" y="223" width="1" height="22" fill="#cc0033"/>
<rect x="538" y="224" width="6" height="17" fill="#cc0033"/>
<rect x="547" y="239" width="1" height="3" fill="#cc0033"/>
<rect x="547" y="247" width="1" height="4" fill="#cc0033"/>
<rect x="544" y="242" width="6" height="1" fill="#cc0033"/>
<rect x="544" y="246" width="6" height="1" fill="#cc0033"/>
<rect x="544" y="243" width="1" height="3" fill="#cc0033"/>
<rect x="549" y="243" width="1" height="3" fill="#cc0033"/>
<rect x="554" y="216" width="1" height="29" fill="#000000"/>
<rect x="551" y="221" width="6" height="19" fill="#000000"/>
<rect x="560" y="231" width="1" height="4" fill="#000000"/>
<rect x="557" y="211" width="6" height="1" fill="#000000"/>
<rect x="557" y="230" width="6" height="1" fill="#000000"/>
<rect x="557" y="212" width="1" height="18" fill="#000000"/>
<rect x="562" y="212" width="1" height="18" fill="#000000"/>
<rect x="567" y="204" width="1" height="1" fill="#000000"/>
<rect x="567" y="214" width="1" height="10" fill="#000000"/>
<rect x="564" y="205" width="6" height="1" fill="#000000"/>
<rect x="564" y="213" width="6" height="1" fill="#000000"/>
<rect x="564" y="206" width="1" height="7" fill="#000000"/>
<rect x="569" y="206" width="1" height="7" fill="#000000"/>
<rect x="573" y="197" width="1" height="6" fill="#000000"/>
<rect x="573" y="207" width="1" height="6" fill="#000000"/>
<rect x="570" y="203" width="6" height="1" fill="#000000"/>
<rect x="570" y="206" width="6" height="1" fill="#000000"/>
<rect x="570" y="204" width="1" height="2" fill="#000000"/>
<rect x="575" y="204" width="1" height="2" fill="#000000"/>
<rect x="580" y="193" width="1" height="3" fill="#000000"/>
<rect x="577" y="196" width="6" height="1" fill="#000000"/>
<rect x="577" y="216" width="6" height="1" fill="#000000"/>
<rect x="577" y="197" width="1" height="19" fill="#000000"/>
<rect x="582" y="197" width="1" height="19" fill="#000000"/>
<rect x="586" y="195" width="1" height="14" fill="#cc0033"/>
<rect x="584" y="199" width="5" height="4" fill="#cc0033"/>
<rect x="593" y="203" width="1" height="2" fill="#cc0033"/>
<rect x="593" y="208" width="1" height="9" fill="#cc0033"/>
<rect x="590" y="205" width="6" height="1" fill="#cc0033"/>
<rect x="590" y="207" width="6" height="1" fill="#cc0033"/>
<rect x="590" y="206" width="1" height="1" fill="#cc0033"/>
<rect x="595" y="206" width="1" height="1" fill="#cc0033"/>
<rect x="599" y="201" width="1" height="15" fill="#cc0033"/>
<rect x="597" y="202" width="5" height="7" fill="#cc0033"/>
<rect x="606" y="202" width="1" height="2" fill="#000000"/>
<rect x="606" y="210" width="1" height="7" fill="#000000"/>
<rect x="603" y="204" width="6" height="1" fill="#000000"/>
<rect x="603" y="209" width="6" height="1" fill="#000000"/>
<rect x="603" y="205" width="1" height="4" fill="#000000"/>
<rect x="608" y="205" width="1" height="4" fill="#000000"/>
<rect x="612" y="201" width="1" height="11" fill="#cc0033"/>
<rect x="610" y="206" width="5" height="2" fill="#cc0033"/>
<rect x="619" y="193" width="1" height="5" fill="#000000"/>
<rect x="619" y="207" width="1" height="1" fill="#000000"/>
<rect x="616" y="198" width="6" height="1" fill="#000000"/>
<rect x="616" y="206" width="6" height="1" fill="#000000"/>
<rect x="616" y="199" width="1" height="7" fill="#000000"/>
<rect x="621" y="199" width="1" height="7" fill="#000000"/>
<rect x="625" y="200" width="1" height="18" fill="#cc0033"/>
<rect x="623" y="201" width="5" height="11" fill="#cc0033"/>
<rect x="632" y="189" width="1" height="12" fill="#000000"/>
<rect x="632" y="211" width="1" height="3" fill="#000000"/>
<rect x="629" y="201" width="6" height="1" fill="#000000"/>
<rect x="629" y="210" width="6" height="1" fill="#000000"/>
<rect x="629" y="202" width="1" height="8" fill="#000000"/>
<rect x="634" y="202" width="1" height="8" fill="#000000"/>
<rect x="638" y="202" width="1" height="15" fill="#cc0033"/>
<rect x="636" y="202" width="5" height="4" fill="#cc0033"/>
<rect x="645" y="202" width="1" height="10" fill="#cc0033"/>
<rect x="642" y="203" width="6" height="3" fill="#cc0033"/>
<rect x="651" y="203" width="1" height="13" fill="#cc0033"/>
<rect x="649" y="210" width="5" height="6" fill="#cc0033"/>
<rect x="658" y="211" width="1" height="12" fill="#cc0033"/>
<rect x="655" y="216" width="6" height="2" fill="#cc0033"/>
<rect x="530" y="214" width="43" height="2" fill="#ff0000"/>
<rect x="515" y="251" width="58" height="2" fill="#ff0000"/>
</g>
<g shape-rendering="crispEdges">
<rect x="429" y="205" width="104" height="24" fill="rgba(0,0,0,0.27)"/>
<rect x="427" y="203" width="104" height="24" fill="#787878"/>
<rect x="428" y="204" width="102" height="22" fill="#ffffff"/>
</g>
<g shape-rendering="crispEdges" fill="#000">
<rect x="20" y="32" width="1" height="7" fill="#000"/>
<rect x="19" y="33" width="3" height="5" fill="#000"/>
<rect x="20" y="34" width="1" height="2" fill="#fff"/>
<rect x="22" y="35" width="3" height="4" fill="#000"/>
<rect x="23" y="35" width="1" height="5" fill="#000"/>
<rect x="26" y="32" width="1" height="8" fill="#000"/>
<rect x="25" y="33" width="3" height="6" fill="#000"/>
<rect x="26" y="34" width="1" height="4" fill="#fff"/>
<rect x="19" y="317" width="3" height="5" fill="#505050"/>
<rect x="20" y="318" width="1" height="4" fill="#a8a8a8"/>
<rect x="22" y="313" width="3" height="9" fill="#505050"/>
<rect x="23" y="314" width="1" height="8" fill="#a8a8a8"/>
<rect x="25" y="315" width="3" height="7" fill="#505050"/>
<rect x="26" y="316" width="1" height="6" fill="#a8a8a8"/>
</g>
<text x="16.2" y="14" font-family="'Liberation Sans', sans-serif" font-size="13" font-weight="bold" fill="#000" text-anchor="start" textLength="32.3" lengthAdjust="spacingAndGlyphs" stroke="#000" stroke-width="0.3">CJES</text>
<text x="52.199999999999996" y="14" font-family="'Liberation Sans', sans-serif" font-size="11.4" font-weight="normal" fill="#000" text-anchor="start" textLength="19.6" lengthAdjust="spacingAndGlyphs">C&amp;J</text>
<text x="74.4" y="14" font-family="'Liberation Sans', sans-serif" font-size="11.4" font-weight="normal" fill="#000" text-anchor="start" textLength="34.0" lengthAdjust="spacingAndGlyphs">Energy</text>
<text x="111.10000000000001" y="14" font-family="'Liberation Sans', sans-serif" font-size="11.4" font-weight="normal" fill="#000" text-anchor="start" textLength="46.4" lengthAdjust="spacingAndGlyphs">Services,</text>
<text x="159.9" y="14" font-family="'Liberation Sans', sans-serif" font-size="11.4" font-weight="normal" fill="#000" text-anchor="start" textLength="18.4" lengthAdjust="spacingAndGlyphs">Inc.</text>
<text x="182.3" y="14" font-family="'Liberation Sans', sans-serif" font-size="9.7" font-weight="normal" fill="#000" text-anchor="start" textLength="27.8" lengthAdjust="spacingAndGlyphs">NYSE</text>
<text x="15.6" y="27" font-family="'Liberation Sans', sans-serif" font-size="10" font-weight="normal" fill="#000" text-anchor="start" textLength="54" lengthAdjust="spacingAndGlyphs">9-Mar-2015</text>
<text x="232.2" y="27" font-family="'Liberation Sans', sans-serif" font-size="11.5" font-weight="bold" fill="#000" text-anchor="start" textLength="29.7" lengthAdjust="spacingAndGlyphs" stroke="#000" stroke-width="0.3">Open</text>
<text x="265.2" y="27" font-family="'Liberation Sans', sans-serif" font-size="10" font-weight="normal" fill="#000" text-anchor="start" textLength="26.3" lengthAdjust="spacingAndGlyphs">12.77</text>
<text x="297.4" y="27" font-family="'Liberation Sans', sans-serif" font-size="11.5" font-weight="bold" fill="#000" text-anchor="start" textLength="24.1" lengthAdjust="spacingAndGlyphs" stroke="#000" stroke-width="0.3">High</text>
<text x="325.4" y="27" font-family="'Liberation Sans', sans-serif" font-size="10" font-weight="normal" fill="#000" text-anchor="start" textLength="25.7" lengthAdjust="spacingAndGlyphs">13.01</text>
<text x="357.2" y="27" font-family="'Liberation Sans', sans-serif" font-size="11.5" font-weight="bold" fill="#000" text-anchor="start" textLength="24.5" lengthAdjust="spacingAndGlyphs" stroke="#000" stroke-width="0.3">Low</text>
<text x="385.0" y="27" font-family="'Liberation Sans', sans-serif" font-size="10" font-weight="normal" fill="#000" text-anchor="start" textLength="26.3" lengthAdjust="spacingAndGlyphs">12.43</text>
<text x="417.5" y="27" font-family="'Liberation Sans', sans-serif" font-size="11.5" font-weight="bold" fill="#000" text-anchor="start" textLength="24.2" lengthAdjust="spacingAndGlyphs" stroke="#000" stroke-width="0.3">Last</text>
<text x="445.5" y="27" font-family="'Liberation Sans', sans-serif" font-size="10" font-weight="normal" fill="#000" text-anchor="start" textLength="26.4" lengthAdjust="spacingAndGlyphs">12.68</text>
<text x="477.6" y="27" font-family="'Liberation Sans', sans-serif" font-size="11.5" font-weight="bold" fill="#000" text-anchor="start" textLength="43.2" lengthAdjust="spacingAndGlyphs" stroke="#000" stroke-width="0.3">Volume</text>
<text x="523.2" y="27" font-family="'Liberation Sans', sans-serif" font-size="10" font-weight="normal" fill="#000" text-anchor="start" textLength="35.5" lengthAdjust="spacingAndGlyphs">841.2K</text>
<text x="563.6" y="27" font-family="'Liberation Sans', sans-serif" font-size="11.5" font-weight="bold" fill="#000" text-anchor="start" textLength="22.1" lengthAdjust="spacingAndGlyphs" stroke="#000" stroke-width="0.3">Chg</text>
<text x="588.6" y="27" font-family="'Liberation Sans', sans-serif" font-size="10" font-weight="normal" fill="#000" text-anchor="start" textLength="22.8" lengthAdjust="spacingAndGlyphs">-0.12</text>
<text x="615.5" y="27" font-family="'Liberation Sans', sans-serif" font-size="10" font-weight="normal" fill="#000" text-anchor="start" textLength="40.0" lengthAdjust="spacingAndGlyphs">(-0.94%)</text>
<path d="M658 22 L665.5 22 L661.75 26 Z" fill="#a0102c"/>
<text x="575.6" y="13.6" font-family="'Liberation Sans', sans-serif" font-size="9.6" font-weight="normal" fill="#484848" text-anchor="start" textLength="8" lengthAdjust="spacingAndGlyphs">©</text>
<text x="585.1" y="14" font-family="'Liberation Sans', sans-serif" font-size="11" font-weight="normal" fill="#484848" text-anchor="start" textLength="80.6" lengthAdjust="spacingAndGlyphs">StockCharts.com</text>
<text x="31.4" y="40" font-family="'DejaVu Sans', sans-serif" font-size="9.2" font-weight="normal" fill="#000" text-anchor="start" textLength="25.4" lengthAdjust="spacingAndGlyphs">CJES</text>
<text x="61.0" y="40" font-family="'DejaVu Sans', sans-serif" font-size="9.2" font-weight="normal" fill="#000" text-anchor="start" textLength="36.9" lengthAdjust="spacingAndGlyphs">(Daily)</text>
<text x="102.4" y="40" font-family="'DejaVu Sans', sans-serif" font-size="9.2" font-weight="normal" fill="#000" text-anchor="start" textLength="31.4" lengthAdjust="spacingAndGlyphs">12.68</text>
<text x="137.70000000000002" y="40" font-family="'DejaVu Sans', sans-serif" font-size="9.2" font-weight="normal" fill="#000" text-anchor="start" textLength="14.1" lengthAdjust="spacingAndGlyphs">(9</text>
<text x="154.8" y="40" font-family="'DejaVu Sans', sans-serif" font-size="9.2" font-weight="normal" fill="#000" text-anchor="start" textLength="24.6" lengthAdjust="spacingAndGlyphs">Mar)</text>
<text x="30.4" y="322" font-family="'DejaVu Sans', sans-serif" font-size="9.2" font-weight="normal" fill="#000" text-anchor="start" textLength="42.7" lengthAdjust="spacingAndGlyphs">Volume</text>
<text x="77.4" y="322" font-family="'DejaVu Sans', sans-serif" font-size="9.2" font-weight="normal" fill="#000" text-anchor="start" textLength="49.6" lengthAdjust="spacingAndGlyphs">841.19K,</text>
<text x="131.1" y="322" font-family="'DejaVu Sans', sans-serif" font-size="9.2" font-weight="normal" fill="#000" text-anchor="start" textLength="45.9" lengthAdjust="spacingAndGlyphs">EMA(60)</text>
<text x="181.1" y="322" font-family="'DejaVu Sans', sans-serif" font-size="9.2" font-weight="normal" fill="#000" text-anchor="start" textLength="33.8" lengthAdjust="spacingAndGlyphs">1.56M</text>
<text x="429.3" y="220" font-family="'Liberation Sans', sans-serif" font-size="13" font-weight="bold" fill="#ff0000" text-anchor="start" textLength="88.3" lengthAdjust="spacingAndGlyphs" stroke="#ff0000" stroke-width="0.2">resistance 12.8</text>
<text x="674.6" y="295" font-family="'Liberation Sans', sans-serif" font-size="10" font-weight="normal" fill="#000" text-anchor="start" textLength="5.8" lengthAdjust="spacingAndGlyphs">9</text>
<text x="669.0" y="275" font-family="'Liberation Sans', sans-serif" font-size="10" font-weight="normal" fill="#000" text-anchor="start" textLength="11.3" lengthAdjust="spacingAndGlyphs">10</text>
<text x="669.0" y="255" font-family="'Liberation Sans', sans-serif" font-size="10" font-weight="normal" fill="#000" text-anchor="start" textLength="11.3" lengthAdjust="spacingAndGlyphs">11</text>
<text x="669.0" y="235" font-family="'Liberation Sans', sans-serif" font-size="10" font-weight="normal" fill="#000" text-anchor="start" textLength="11.3" lengthAdjust="spacingAndGlyphs">12</text>
<text x="669.0" y="215" font-family="'Liberation Sans', sans-serif" font-size="10" font-weight="normal" fill="#000" text-anchor="start" textLength="11.3" lengthAdjust="spacingAndGlyphs">13</text>
<text x="669.0" y="195" font-family="'Liberation Sans', sans-serif" font-size="10" font-weight="normal" fill="#000" text-anchor="start" textLength="11.3" lengthAdjust="spacingAndGlyphs">14</text>
<text x="669.0" y="175" font-family="'Liberation Sans', sans-serif" font-size="10" font-weight="normal" fill="#000" text-anchor="start" textLength="11.3" lengthAdjust="spacingAndGlyphs">15</text>
<text x="669.0" y="155" font-family="'Liberation Sans', sans-serif" font-size="10" font-weight="normal" fill="#000" text-anchor="start" textLength="11.3" lengthAdjust="spacingAndGlyphs">16</text>
<text x="669.0" y="134" font-family="'Liberation Sans', sans-serif" font-size="10" font-weight="normal" fill="#000" text-anchor="start" textLength="11.3" lengthAdjust="spacingAndGlyphs">17</text>
<text x="669.0" y="114" font-family="'Liberation Sans', sans-serif" font-size="10" font-weight="normal" fill="#000" text-anchor="start" textLength="11.3" lengthAdjust="spacingAndGlyphs">18</text>
<text x="669.0" y="94" font-family="'Liberation Sans', sans-serif" font-size="10" font-weight="normal" fill="#000" text-anchor="start" textLength="11.3" lengthAdjust="spacingAndGlyphs">19</text>
<text x="668.4" y="74" font-family="'Liberation Sans', sans-serif" font-size="10" font-weight="normal" fill="#000" text-anchor="start" textLength="11.6" lengthAdjust="spacingAndGlyphs">20</text>
<text x="668.4" y="54" font-family="'Liberation Sans', sans-serif" font-size="10" font-weight="normal" fill="#000" text-anchor="start" textLength="11.6" lengthAdjust="spacingAndGlyphs">21</text>
<text x="669.0" y="387" font-family="'Liberation Sans', sans-serif" font-size="10" font-weight="normal" fill="#000" text-anchor="start" textLength="14.6" lengthAdjust="spacingAndGlyphs">1M</text>
<text x="669.0" y="366" font-family="'Liberation Sans', sans-serif" font-size="10" font-weight="normal" fill="#000" text-anchor="start" textLength="14.6" lengthAdjust="spacingAndGlyphs">2M</text>
<text x="669.0" y="345" font-family="'Liberation Sans', sans-serif" font-size="10" font-weight="normal" fill="#000" text-anchor="start" textLength="14.6" lengthAdjust="spacingAndGlyphs">3M</text>
<text x="669.0" y="324" font-family="'Liberation Sans', sans-serif" font-size="10" font-weight="normal" fill="#000" text-anchor="start" textLength="14.6" lengthAdjust="spacingAndGlyphs">4M</text>
<text x="32.12" y="308" font-family="'Liberation Sans', sans-serif" font-size="10" font-weight="normal" fill="#000" text-anchor="start" textLength="12.76" lengthAdjust="spacingAndGlyphs">20</text>
<text x="32.12" y="416" font-family="'Liberation Sans', sans-serif" font-size="10" font-weight="normal" fill="#000" text-anchor="start" textLength="12.76" lengthAdjust="spacingAndGlyphs">20</text>
<text x="64.12" y="308" font-family="'Liberation Sans', sans-serif" font-size="10" font-weight="normal" fill="#000" text-anchor="start" textLength="12.76" lengthAdjust="spacingAndGlyphs">27</text>
<text x="64.12" y="416" font-family="'Liberation Sans', sans-serif" font-size="10" font-weight="normal" fill="#000" text-anchor="start" textLength="12.76" lengthAdjust="spacingAndGlyphs">27</text>
<text x="94.57" y="308" font-family="'Liberation Sans', sans-serif" font-size="11.5" font-weight="bold" fill="#000" text-anchor="start" textLength="19.86" lengthAdjust="spacingAndGlyphs" stroke="#000" stroke-width="0.3">Nov</text>
<text x="94.57" y="416" font-family="'Liberation Sans', sans-serif" font-size="11.5" font-weight="bold" fill="#000" text-anchor="start" textLength="19.86" lengthAdjust="spacingAndGlyphs" stroke="#000" stroke-width="0.3">Nov</text>
<text x="129.12" y="308" font-family="'Liberation Sans', sans-serif" font-size="10" font-weight="normal" fill="#000" text-anchor="start" textLength="12.76" lengthAdjust="spacingAndGlyphs">10</text>
<text x="129.12" y="416" font-family="'Liberation Sans', sans-serif" font-size="10" font-weight="normal" fill="#000" text-anchor="start" textLength="12.76" lengthAdjust="spacingAndGlyphs">10</text>
<text x="162.12" y="308" font-family="'Liberation Sans', sans-serif" font-size="10" font-weight="normal" fill="#000" text-anchor="start" textLength="12.76" lengthAdjust="spacingAndGlyphs">17</text>
<text x="162.12" y="416" font-family="'Liberation Sans', sans-serif" font-size="10" font-weight="normal" fill="#000" text-anchor="start" textLength="12.76" lengthAdjust="spacingAndGlyphs">17</text>
<text x="195.12" y="308" font-family="'Liberation Sans', sans-serif" font-size="10" font-weight="normal" fill="#000" text-anchor="start" textLength="12.76" lengthAdjust="spacingAndGlyphs">24</text>
<text x="195.12" y="416" font-family="'Liberation Sans', sans-serif" font-size="10" font-weight="normal" fill="#000" text-anchor="start" textLength="12.76" lengthAdjust="spacingAndGlyphs">24</text>
<text x="218.44" y="308" font-family="'Liberation Sans', sans-serif" font-size="11.5" font-weight="bold" fill="#000" text-anchor="start" textLength="20.12" lengthAdjust="spacingAndGlyphs" stroke="#000" stroke-width="0.3">Dec</text>
<text x="218.44" y="416" font-family="'Liberation Sans', sans-serif" font-size="11.5" font-weight="bold" fill="#000" text-anchor="start" textLength="20.12" lengthAdjust="spacingAndGlyphs" stroke="#000" stroke-width="0.3">Dec</text>
<text x="256.93" y="308" font-family="'Liberation Sans', sans-serif" font-size="10" font-weight="normal" fill="#000" text-anchor="start" textLength="7.14" lengthAdjust="spacingAndGlyphs">8</text>
<text x="256.93" y="416" font-family="'Liberation Sans', sans-serif" font-size="10" font-weight="normal" fill="#000" text-anchor="start" textLength="7.14" lengthAdjust="spacingAndGlyphs">8</text>
<text x="286.12" y="308" font-family="'Liberation Sans', sans-serif" font-size="10" font-weight="normal" fill="#000" text-anchor="start" textLength="12.76" lengthAdjust="spacingAndGlyphs">15</text>
<text x="286.12" y="416" font-family="'Liberation Sans', sans-serif" font-size="10" font-weight="normal" fill="#000" text-anchor="start" textLength="12.76" lengthAdjust="spacingAndGlyphs">15</text>
<text x="319.12" y="308" font-family="'Liberation Sans', sans-serif" font-size="10" font-weight="normal" fill="#000" text-anchor="start" textLength="12.76" lengthAdjust="spacingAndGlyphs">22</text>
<text x="319.12" y="416" font-family="'Liberation Sans', sans-serif" font-size="10" font-weight="normal" fill="#000" text-anchor="start" textLength="12.76" lengthAdjust="spacingAndGlyphs">22</text>
<text x="345.12" y="308" font-family="'Liberation Sans', sans-serif" font-size="10" font-weight="normal" fill="#000" text-anchor="start" textLength="12.76" lengthAdjust="spacingAndGlyphs">29</text>
<text x="345.12" y="416" font-family="'Liberation Sans', sans-serif" font-size="10" font-weight="normal" fill="#000" text-anchor="start" textLength="12.76" lengthAdjust="spacingAndGlyphs">29</text>
<text x="359.26" y="308" font-family="'Liberation Sans', sans-serif" font-size="11.5" font-weight="bold" fill="#000" text-anchor="start" textLength="22.98" lengthAdjust="spacingAndGlyphs" stroke="#000" stroke-width="0.3">2015</text>
<text x="359.26" y="416" font-family="'Liberation Sans', sans-serif" font-size="11.5" font-weight="bold" fill="#000" text-anchor="start" textLength="22.98" lengthAdjust="spacingAndGlyphs" stroke="#000" stroke-width="0.3">2015</text>
<text x="403.12" y="308" font-family="'Liberation Sans', sans-serif" font-size="10" font-weight="normal" fill="#000" text-anchor="start" textLength="12.76" lengthAdjust="spacingAndGlyphs">12</text>
<text x="403.12" y="416" font-family="'Liberation Sans', sans-serif" font-size="10" font-weight="normal" fill="#000" text-anchor="start" textLength="12.76" lengthAdjust="spacingAndGlyphs">12</text>
<text x="436.12" y="308" font-family="'Liberation Sans', sans-serif" font-size="10" font-weight="normal" fill="#000" text-anchor="start" textLength="12.76" lengthAdjust="spacingAndGlyphs">20</text>
<text x="436.12" y="416" font-family="'Liberation Sans', sans-serif" font-size="10" font-weight="normal" fill="#000" text-anchor="start" textLength="12.76" lengthAdjust="spacingAndGlyphs">20</text>
<text x="462.12" y="308" font-family="'Liberation Sans', sans-serif" font-size="10" font-weight="normal" fill="#000" text-anchor="start" textLength="12.76" lengthAdjust="spacingAndGlyphs">26</text>
<text x="462.12" y="416" font-family="'Liberation Sans', sans-serif" font-size="10" font-weight="normal" fill="#000" text-anchor="start" textLength="12.76" lengthAdjust="spacingAndGlyphs">26</text>
<text x="492.12" y="308" font-family="'Liberation Sans', sans-serif" font-size="11.5" font-weight="bold" fill="#000" text-anchor="start" textLength="20.06" lengthAdjust="spacingAndGlyphs" stroke="#000" stroke-width="0.3">Feb</text>
<text x="492.12" y="416" font-family="'Liberation Sans', sans-serif" font-size="11.5" font-weight="bold" fill="#000" text-anchor="start" textLength="20.06" lengthAdjust="spacingAndGlyphs" stroke="#000" stroke-width="0.3">Feb</text>
<text x="531.63" y="308" font-family="'Liberation Sans', sans-serif" font-size="10" font-weight="normal" fill="#000" text-anchor="start" textLength="5.74" lengthAdjust="spacingAndGlyphs">9</text>
<text x="531.63" y="416" font-family="'Liberation Sans', sans-serif" font-size="10" font-weight="normal" fill="#000" text-anchor="start" textLength="5.74" lengthAdjust="spacingAndGlyphs">9</text>
<text x="560.12" y="308" font-family="'Liberation Sans', sans-serif" font-size="10" font-weight="normal" fill="#000" text-anchor="start" textLength="12.76" lengthAdjust="spacingAndGlyphs">17</text>
<text x="560.12" y="416" font-family="'Liberation Sans', sans-serif" font-size="10" font-weight="normal" fill="#000" text-anchor="start" textLength="12.76" lengthAdjust="spacingAndGlyphs">17</text>
<text x="586.12" y="308" font-family="'Liberation Sans', sans-serif" font-size="10" font-weight="normal" fill="#000" text-anchor="start" textLength="12.76" lengthAdjust="spacingAndGlyphs">23</text>
<text x="586.12" y="416" font-family="'Liberation Sans', sans-serif" font-size="10" font-weight="normal" fill="#000" text-anchor="start" textLength="12.76" lengthAdjust="spacingAndGlyphs">23</text>
<text x="615.0" y="308" font-family="'Liberation Sans', sans-serif" font-size="11.5" font-weight="bold" fill="#000" text-anchor="start" textLength="20.3" lengthAdjust="spacingAndGlyphs" stroke="#000" stroke-width="0.3">Mar</text>
<text x="615.0" y="416" font-family="'Liberation Sans', sans-serif" font-size="11.5" font-weight="bold" fill="#000" text-anchor="start" textLength="20.3" lengthAdjust="spacingAndGlyphs" stroke="#000" stroke-width="0.3">Mar</text>
<text x="655.63" y="308" font-family="'Liberation Sans', sans-serif" font-size="10" font-weight="normal" fill="#000" text-anchor="start" textLength="5.74" lengthAdjust="spacingAndGlyphs">9</text>
<text x="655.63" y="416" font-family="'Liberation Sans', sans-serif" font-size="10" font-weight="normal" fill="#000" text-anchor="start" textLength="5.74" lengthAdjust="spacingAndGlyphs">9</text>
</svg>
</body></html>
